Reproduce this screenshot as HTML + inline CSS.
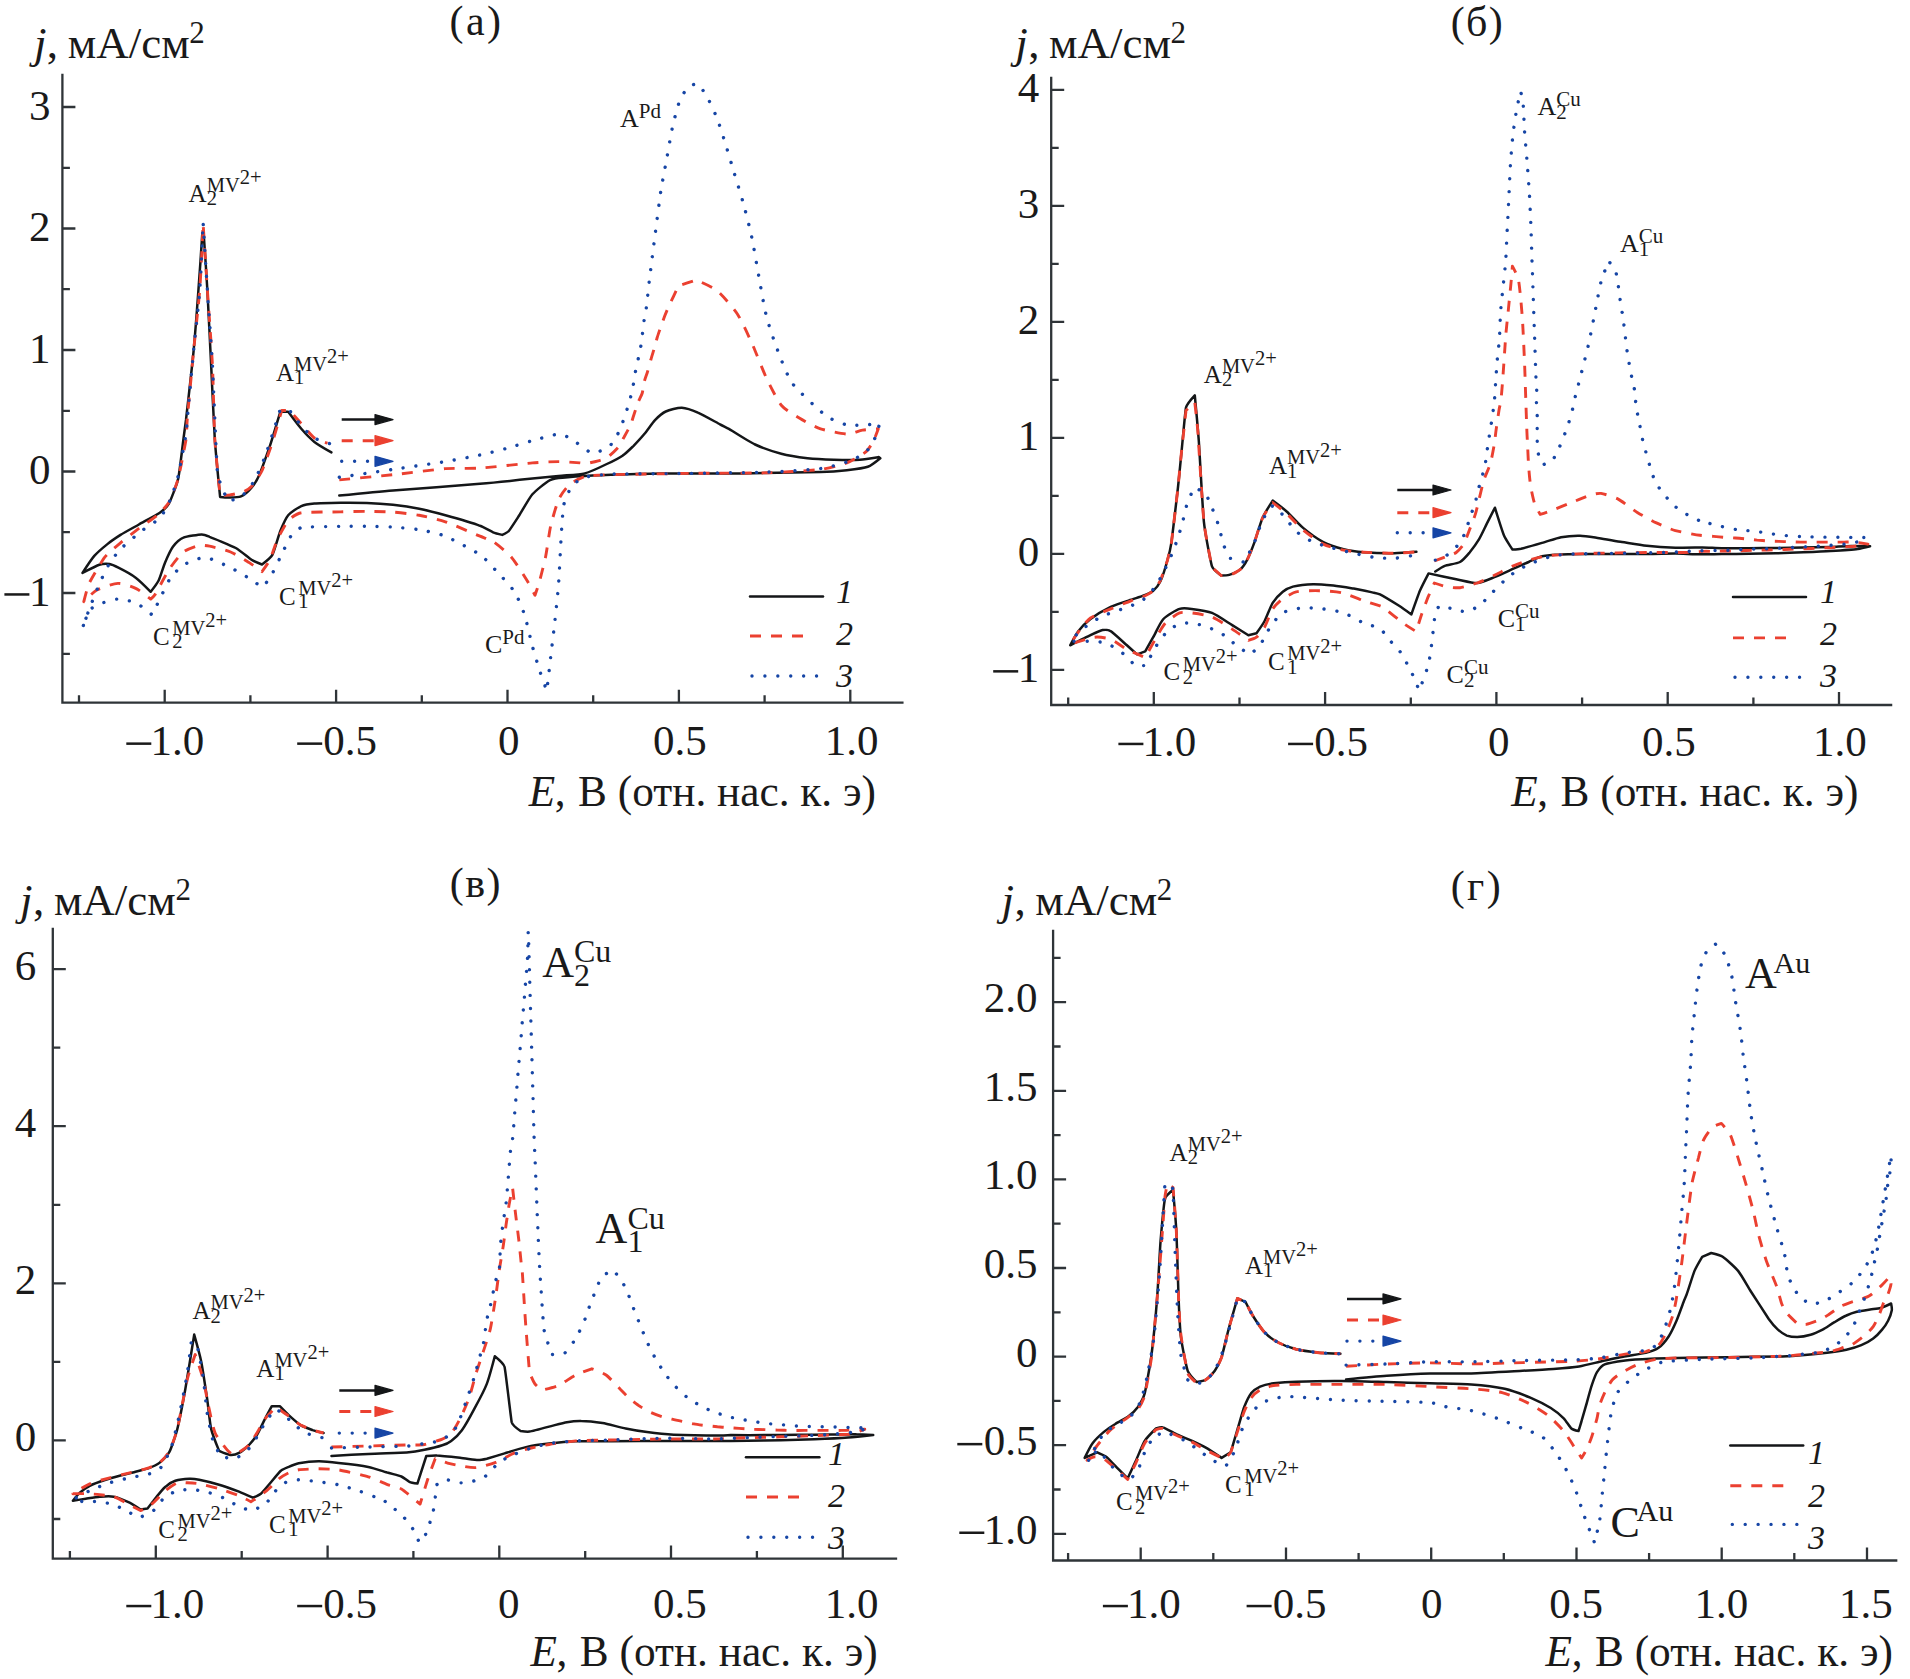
<!DOCTYPE html>
<html><head><meta charset="utf-8"><style>
html,body{margin:0;padding:0;background:#fff;}
svg{display:block}
.t{font-family:"Liberation Serif", serif;font-size:43px;fill:#1a1a1a}
.i{font-style:italic}
.s{font-family:"Liberation Serif", serif;font-size:24px;fill:#1a1a1a}
</style></head><body>
<svg width="1910" height="1679" viewBox="0 0 1910 1679" xmlns="http://www.w3.org/2000/svg">
<rect width="1910" height="1679" fill="#fff"/>
<path d="M62.4 75.0V702.7H902.4" fill="none" stroke="#2f3438" stroke-width="2.3" stroke-linecap="square"/>
<path d="M79.0 702.7v-7.5 M164.7 702.7v-13 M250.4 702.7v-7.5 M336.1 702.7v-13 M421.8 702.7v-7.5 M507.5 702.7v-13 M593.2 702.7v-7.5 M678.9 702.7v-13 M764.6 702.7v-7.5 M850.3 702.7v-13 M62.4 653.8h7.5 M62.4 593.0h13 M62.4 532.2h7.5 M62.4 471.5h13 M62.4 410.8h7.5 M62.4 350.0h13 M62.4 289.2h7.5 M62.4 228.5h13 M62.4 167.8h7.5 M62.4 107.0h13" fill="none" stroke="#2f3438" stroke-width="2.3"/>
<text x="204.2" y="755.2" text-anchor="end" class="t">1.0</text>
<rect x="126.3" y="742.4" width="25" height="2.5" fill="#1a1a1a"/>
<text x="377.1" y="755.2" text-anchor="end" class="t">0.5</text>
<rect x="297.2" y="742.4" width="25" height="2.5" fill="#1a1a1a"/>
<text x="519.5" y="755.2" text-anchor="end" class="t">0</text>
<text x="706.8" y="755.2" text-anchor="end" class="t">0.5</text>
<text x="878.5" y="755.2" text-anchor="end" class="t">1.0</text>
<text x="50.4" y="605.5" text-anchor="end" class="t">1</text>
<rect x="4.4" y="593.2" width="25" height="2.5" fill="#1a1a1a"/>
<text x="50.4" y="484.0" text-anchor="end" class="t">0</text>
<text x="50.4" y="362.5" text-anchor="end" class="t">1</text>
<text x="50.4" y="241.0" text-anchor="end" class="t">2</text>
<text x="50.4" y="119.5" text-anchor="end" class="t">3</text>
<path d="M1051.2 78.0V705.0H1891.1" fill="none" stroke="#2f3438" stroke-width="2.3" stroke-linecap="square"/>
<path d="M1068.2 705.0v-7.5 M1153.8 705.0v-13 M1239.5 705.0v-7.5 M1325.1 705.0v-13 M1410.8 705.0v-7.5 M1496.4 705.0v-13 M1582.1 705.0v-7.5 M1667.7 705.0v-13 M1753.4 705.0v-7.5 M1839.0 705.0v-13 M1051.2 669.9h13 M1051.2 611.9h7.5 M1051.2 553.9h13 M1051.2 495.9h7.5 M1051.2 437.9h13 M1051.2 379.9h7.5 M1051.2 321.9h13 M1051.2 263.9h7.5 M1051.2 205.9h13 M1051.2 147.9h7.5 M1051.2 89.9h13" fill="none" stroke="#2f3438" stroke-width="2.3"/>
<text x="1196.2" y="755.5" text-anchor="end" class="t">1.0</text>
<rect x="1118.4" y="742.7" width="25" height="2.5" fill="#1a1a1a"/>
<text x="1368.0" y="755.5" text-anchor="end" class="t">0.5</text>
<rect x="1288.1" y="742.7" width="25" height="2.5" fill="#1a1a1a"/>
<text x="1509.5" y="755.5" text-anchor="end" class="t">0</text>
<text x="1695.8" y="755.5" text-anchor="end" class="t">0.5</text>
<text x="1866.8" y="755.5" text-anchor="end" class="t">1.0</text>
<text x="1039.2" y="682.4" text-anchor="end" class="t">1</text>
<rect x="993.2" y="670.1" width="25" height="2.5" fill="#1a1a1a"/>
<text x="1039.2" y="566.4" text-anchor="end" class="t">0</text>
<text x="1039.2" y="450.4" text-anchor="end" class="t">1</text>
<text x="1039.2" y="334.4" text-anchor="end" class="t">2</text>
<text x="1039.2" y="218.4" text-anchor="end" class="t">3</text>
<text x="1039.2" y="102.4" text-anchor="end" class="t">4</text>
<path d="M52.8 929.0V1558.6H896.0" fill="none" stroke="#2f3438" stroke-width="2.3" stroke-linecap="square"/>
<path d="M69.9 1558.6v-7.5 M155.8 1558.6v-13 M241.7 1558.6v-7.5 M327.6 1558.6v-13 M413.4 1558.6v-7.5 M499.3 1558.6v-13 M585.2 1558.6v-7.5 M671.0 1558.6v-13 M756.9 1558.6v-7.5 M842.8 1558.6v-13 M52.8 1519.0h7.5 M52.8 1440.4h13 M52.8 1361.9h7.5 M52.8 1283.3h13 M52.8 1204.8h7.5 M52.8 1126.2h13 M52.8 1047.7h7.5 M52.8 969.1h13" fill="none" stroke="#2f3438" stroke-width="2.3"/>
<text x="204.2" y="1617.6" text-anchor="end" class="t">1.0</text>
<rect x="126.3" y="1604.8" width="25" height="2.5" fill="#1a1a1a"/>
<text x="377.1" y="1617.6" text-anchor="end" class="t">0.5</text>
<rect x="297.2" y="1604.8" width="25" height="2.5" fill="#1a1a1a"/>
<text x="519.5" y="1617.6" text-anchor="end" class="t">0</text>
<text x="706.8" y="1617.6" text-anchor="end" class="t">0.5</text>
<text x="878.5" y="1617.6" text-anchor="end" class="t">1.0</text>
<text x="36.3" y="1450.9" text-anchor="end" class="t">0</text>
<text x="36.3" y="1293.8" text-anchor="end" class="t">2</text>
<text x="36.3" y="1136.7" text-anchor="end" class="t">4</text>
<text x="36.3" y="979.6" text-anchor="end" class="t">6</text>
<path d="M1053.1 931.0V1560.5H1896.2" fill="none" stroke="#2f3438" stroke-width="2.3" stroke-linecap="square"/>
<path d="M1068.1 1560.5v-7.5 M1140.7 1560.5v-13 M1213.3 1560.5v-7.5 M1286.0 1560.5v-13 M1358.6 1560.5v-7.5 M1431.2 1560.5v-13 M1503.8 1560.5v-7.5 M1576.5 1560.5v-13 M1649.1 1560.5v-7.5 M1721.7 1560.5v-13 M1794.3 1560.5v-7.5 M1867.0 1560.5v-13 M1053.1 1533.8h13 M1053.1 1489.5h7.5 M1053.1 1445.2h13 M1053.1 1400.9h7.5 M1053.1 1356.6h13 M1053.1 1312.3h7.5 M1053.1 1268.0h13 M1053.1 1223.7h7.5 M1053.1 1179.4h13 M1053.1 1135.1h7.5 M1053.1 1090.8h13 M1053.1 1046.5h7.5 M1053.1 1002.2h13 M1053.1 957.9h7.5" fill="none" stroke="#2f3438" stroke-width="2.3"/>
<text x="1180.8" y="1617.6" text-anchor="end" class="t">1.0</text>
<rect x="1102.9" y="1604.8" width="25" height="2.5" fill="#1a1a1a"/>
<text x="1326.5" y="1617.6" text-anchor="end" class="t">0.5</text>
<rect x="1246.6" y="1604.8" width="25" height="2.5" fill="#1a1a1a"/>
<text x="1442.5" y="1617.6" text-anchor="end" class="t">0</text>
<text x="1603.0" y="1617.6" text-anchor="end" class="t">0.5</text>
<text x="1748.2" y="1617.6" text-anchor="end" class="t">1.0</text>
<text x="1892.8" y="1617.6" text-anchor="end" class="t">1.5</text>
<text x="1037.6" y="1543.8" text-anchor="end" class="t">1.0</text>
<rect x="959.3" y="1531.5" width="25" height="2.5" fill="#1a1a1a"/>
<text x="1037.6" y="1455.2" text-anchor="end" class="t">0.5</text>
<rect x="957.3" y="1442.9" width="25" height="2.5" fill="#1a1a1a"/>
<text x="1037.6" y="1366.6" text-anchor="end" class="t">0</text>
<text x="1037.6" y="1278.0" text-anchor="end" class="t">0.5</text>
<text x="1037.6" y="1189.4" text-anchor="end" class="t">1.0</text>
<text x="1037.6" y="1100.8" text-anchor="end" class="t">1.5</text>
<text x="1037.6" y="1012.2" text-anchor="end" class="t">2.0</text>
<path d="M339.3 495.6C339.3 495.6 379.6 491.5 393.0 490.4C406.5 489.3 466.9 485.0 480.0 483.8C493.1 482.7 525.9 479.3 532.4 478.6C539.0 477.9 552.1 476.6 558.6 476.0C565.2 475.3 579.0 474.8 584.8 473.4C590.6 471.9 602.7 466.0 606.8 464.0C610.9 462.1 619.9 457.5 622.9 455.4C625.9 453.4 631.0 448.3 633.6 445.8C636.1 443.2 641.8 437.1 644.3 434.0C646.9 430.9 652.7 422.5 655.0 420.1C657.4 417.6 662.6 412.9 665.8 411.5C668.9 410.1 677.7 407.6 681.8 407.7C686.0 407.9 694.1 410.9 697.9 412.6C701.8 414.2 717.8 423.2 720.0 424.3C722.2 425.5 726.7 427.6 728.9 428.8C731.1 430.1 748.8 441.6 755.1 444.5C761.4 447.5 774.9 452.0 781.3 453.7C787.7 455.4 801.0 457.4 807.5 458.2C814.0 458.9 827.2 459.5 833.7 459.7C840.3 459.9 855.3 460.0 859.9 459.7C864.5 459.5 877.7 457.2 878.3 457.1C878.8 457.1 880.3 458.2 880.3 458.2C880.3 458.2 871.4 465.5 867.8 466.8C864.2 468.1 852.1 469.6 846.8 470.2C841.5 470.8 827.2 471.9 820.6 472.1C814.0 472.2 761.7 473.2 742.0 473.4C722.4 473.5 676.5 473.2 663.4 473.4C650.3 473.5 617.6 474.5 611.0 474.7C604.4 474.9 591.3 475.6 584.8 476.0C578.3 476.4 561.3 477.7 558.6 478.1C555.9 478.5 550.4 479.8 548.1 481.2C545.8 482.7 535.7 490.4 532.4 494.3C529.1 498.2 521.9 511.3 519.3 515.3C516.7 519.3 510.1 529.6 508.8 531.0C507.6 532.4 502.3 534.9 502.3 534.9C502.3 534.9 495.3 533.2 493.1 532.3C490.9 531.4 483.4 527.0 480.0 525.8C476.6 524.5 451.9 517.1 445.4 515.3C438.9 513.5 425.7 510.0 419.2 508.7C412.7 507.4 399.5 505.5 393.0 504.8C386.5 504.1 373.4 503.2 366.8 503.0C360.3 502.7 347.2 502.6 340.6 502.7C334.1 502.8 317.7 503.2 314.4 503.5C311.1 503.8 304.4 504.7 301.3 506.1C298.3 507.5 290.8 512.2 288.2 515.3C285.6 518.3 282.0 526.9 280.3 531.0C278.7 535.1 274.2 551.4 272.5 554.6C270.8 557.8 262.0 564.5 262.0 564.5C262.0 564.5 254.0 561.4 251.5 559.8C249.1 558.3 240.1 550.4 235.8 548.0C231.5 545.7 211.5 537.5 209.6 536.8C207.7 536.0 203.8 534.3 201.7 534.4C199.7 534.5 186.6 536.2 183.4 537.6C180.2 538.9 175.0 543.9 172.9 546.7C170.9 549.5 166.8 558.4 165.1 562.4C163.4 566.5 160.0 577.8 158.5 580.8C157.0 583.8 150.7 591.8 150.7 591.8C150.7 591.8 140.0 580.9 136.0 577.9C131.9 574.9 120.6 568.8 118.4 567.7C116.3 566.6 111.9 564.4 109.5 564.0C107.1 563.7 101.7 564.0 99.3 564.8C96.9 565.6 82.5 572.9 82.5 572.9C82.5 572.9 91.4 559.2 94.3 555.9C97.2 552.6 104.3 546.6 107.4 544.1C110.5 541.6 117.1 537.1 120.5 534.9C123.9 532.8 134.3 527.1 138.9 524.5C143.5 521.9 157.2 514.5 159.8 512.7C162.5 510.8 167.5 506.3 169.0 503.5C170.5 500.6 176.7 485.1 178.2 478.6C179.6 472.1 182.8 444.1 183.4 439.3C184.0 434.5 185.4 424.8 186.0 419.9C186.5 415.1 192.0 367.5 193.5 351.8C195.0 336.1 197.5 302.8 198.5 289.0C199.6 275.2 202.3 233.7 202.3 233.7C202.3 233.7 203.6 232.5 203.6 232.5C203.6 232.5 206.5 274.9 207.3 289.0C208.1 303.1 210.2 345.7 211.1 364.4C212.0 383.1 213.9 424.9 214.8 439.3C215.8 453.7 220.1 496.9 220.1 496.9C220.1 496.9 226.0 497.5 227.9 497.5C229.9 497.4 238.0 497.7 241.0 496.4C244.1 495.2 249.3 490.4 251.5 487.8C253.7 485.2 257.9 478.2 259.4 474.7C260.9 471.2 267.4 453.1 269.9 445.9C272.3 438.6 280.3 411.8 280.3 411.8C280.3 411.8 288.2 411.8 288.2 411.8C288.2 411.8 298.3 425.3 301.3 428.8C304.3 432.3 310.8 439.1 314.4 441.9C318.1 444.8 331.4 452.4 331.4 452.4" fill="none" stroke="#141618" stroke-width="2.5" stroke-linejoin="round" stroke-linecap="round"/>
<path d="M339.3 479.9C339.3 479.9 379.9 476.1 393.0 474.7C406.1 473.3 436.8 469.3 445.4 468.6C454.0 468.0 471.4 468.7 480.0 468.1C488.6 467.6 525.9 463.4 532.4 462.9C538.9 462.3 553.2 461.6 558.6 461.6C564.0 461.6 578.4 462.8 580.0 462.9C581.6 463.1 584.8 463.7 586.4 463.5C588.0 463.3 595.7 461.5 598.2 460.8C600.7 460.1 605.7 458.5 607.9 457.0C610.0 455.6 616.9 449.0 618.6 446.9C620.3 444.7 622.6 439.6 624.0 437.2C625.3 434.8 629.3 427.7 630.4 425.4C631.4 423.1 632.8 418.2 633.6 415.8C634.4 413.4 636.9 405.4 637.9 402.9C638.8 400.4 641.4 395.8 642.2 393.3C642.9 390.7 643.7 383.9 644.3 381.5C644.9 379.0 646.8 374.3 647.5 371.8C648.3 369.4 650.0 362.7 650.8 360.0C651.5 357.3 653.2 352.0 654.0 349.3C654.7 346.6 656.5 340.0 657.2 337.5C657.9 335.1 659.6 330.3 660.4 327.9C661.2 325.5 663.7 318.7 664.7 316.1C665.7 313.5 667.8 308.4 669.0 305.9C670.1 303.4 678.5 285.9 678.5 285.9C678.5 285.9 696.1 280.0 696.1 280.0C696.1 280.0 712.2 286.6 716.6 290.3C721.1 293.9 732.9 307.2 737.2 313.7C741.5 320.2 748.4 335.6 751.8 343.0C755.2 350.5 763.2 371.3 766.5 378.2C769.8 385.2 777.7 400.9 781.3 405.2C784.9 409.6 794.8 415.4 799.7 418.3C804.5 421.2 815.1 427.0 820.6 428.8C826.2 430.7 842.8 433.9 846.8 434.1C850.9 434.2 858.6 430.8 862.5 430.1C866.4 429.5 878.3 428.8 878.3 428.8C878.3 428.8 874.6 439.1 873.0 441.9C871.4 444.8 867.7 450.4 865.2 452.4C862.6 454.4 851.7 461.0 846.8 462.9C841.9 464.8 827.3 468.6 820.6 469.4C813.9 470.3 781.3 472.4 768.2 472.8C755.1 473.2 709.3 473.1 689.6 473.4C670.0 473.6 617.6 474.5 611.0 474.7C604.4 474.9 589.2 475.4 584.8 476.5C580.5 477.6 572.4 482.2 569.1 485.2C565.7 488.1 560.4 495.5 558.6 499.6C556.8 503.6 552.3 519.1 550.7 525.8C549.2 532.4 546.9 550.6 545.5 557.2C544.1 563.8 539.8 580.4 539.0 583.4C538.1 586.4 535.0 595.2 535.0 595.2C535.0 595.2 529.3 584.3 527.2 580.8C525.0 577.3 515.4 561.8 511.4 557.2C507.5 552.6 496.0 543.4 493.1 541.5C490.2 539.5 483.3 537.6 480.0 536.2C476.7 534.9 451.8 524.0 445.4 521.8C439.0 519.6 425.7 516.5 419.2 515.3C412.7 514.1 399.5 512.6 393.0 512.1C386.5 511.6 373.4 511.4 366.8 511.4C360.3 511.3 347.2 511.7 340.6 511.9C334.1 512.0 305.1 512.0 301.3 512.7C297.5 513.3 290.8 517.7 288.2 520.5C285.7 523.4 280.0 534.1 277.7 538.9C275.5 543.7 271.4 556.6 269.9 559.8C268.3 563.0 262.0 571.6 262.0 571.6C262.0 571.6 252.3 564.6 248.9 562.4C245.5 560.3 235.4 554.0 230.6 552.0C225.7 549.9 212.2 546.7 209.6 546.2C207.0 545.7 201.7 544.9 199.1 545.4C196.6 546.0 186.8 549.4 183.4 552.0C180.0 554.6 173.2 563.5 170.3 567.7C167.4 571.9 161.1 583.7 159.8 586.0C158.5 588.3 155.4 594.1 154.6 595.2C153.8 596.3 150.7 599.1 150.7 599.1C150.7 599.1 140.3 590.6 136.2 588.6C132.2 586.7 122.7 583.2 117.9 583.4C113.1 583.6 100.8 587.9 96.9 590.0C93.1 592.0 83.8 601.7 83.8 601.7C83.8 601.7 87.1 587.7 89.1 583.4C91.1 579.1 101.5 561.4 104.8 557.2C108.1 553.0 116.5 546.2 120.5 542.8C124.6 539.4 134.4 531.8 138.9 528.4C143.4 525.0 153.9 518.2 157.2 515.3C160.5 512.4 166.8 506.0 169.0 502.2C171.2 498.4 176.5 484.7 178.2 478.6C179.8 472.5 185.3 444.1 186.0 439.3C186.8 434.5 186.8 424.8 187.2 419.9C187.6 415.1 192.0 367.5 193.5 351.8C195.0 336.1 198.6 304.7 199.8 289.0C201.0 273.3 203.1 223.7 203.1 223.7C203.1 223.7 206.3 272.7 207.3 289.0C208.4 305.3 211.4 345.7 212.4 364.4C213.3 383.1 214.0 425.2 214.8 439.3C215.7 453.4 220.1 495.6 220.1 495.6C220.1 495.6 228.0 495.3 230.6 494.8C233.2 494.4 241.5 492.6 243.7 491.7C245.9 490.8 250.0 488.2 251.5 486.5C253.1 484.7 260.0 475.0 262.0 470.7C264.0 466.5 270.1 449.2 272.5 441.9C274.9 434.6 281.7 410.5 281.7 410.5C281.7 410.5 289.5 410.5 289.5 410.5C289.5 410.5 298.4 420.3 301.3 423.6C304.3 426.8 311.6 435.9 314.4 438.0C317.2 440.1 327.5 443.2 327.5 443.2" fill="none" stroke="#eb4030" stroke-width="2.9" stroke-dasharray="11 10" stroke-linejoin="round"/>
<path d="M339.3 477.3C339.3 477.3 379.9 471.4 393.0 469.4C406.1 467.5 436.7 463.0 445.4 461.6C454.1 460.1 473.4 456.4 480.0 455.0C486.6 453.6 499.7 450.3 506.2 448.5C512.7 446.7 525.9 442.4 532.4 440.6C538.9 438.8 555.1 434.2 558.6 434.1C562.1 433.9 568.7 437.5 571.7 439.3C574.7 441.1 588.6 451.6 590.0 452.4C591.5 453.2 595.0 452.7 596.6 452.2C598.2 451.8 606.4 449.0 608.9 446.9C611.5 444.7 615.8 437.6 617.5 434.5C619.2 431.5 621.7 424.8 622.9 421.7C624.1 418.5 626.2 412.0 627.2 408.8C628.2 405.6 630.1 399.1 630.9 395.9C631.7 392.8 633.0 386.3 633.6 383.1C634.2 379.9 635.1 373.3 635.7 370.2C636.3 367.1 637.8 361.0 638.4 357.9C639.1 354.8 640.6 347.7 641.1 344.5C641.6 341.3 642.3 334.8 642.7 331.6C643.1 328.4 643.9 321.9 644.3 318.8C644.8 315.7 646.1 309.5 646.5 306.4C646.9 303.3 648.5 287.7 649.2 281.5C650.0 275.2 653.7 245.6 655.1 234.6C656.5 223.6 659.7 198.7 660.9 190.6C662.2 182.5 665.3 166.4 666.8 158.3C668.3 150.3 671.2 132.8 672.7 126.1C674.2 119.4 678.5 103.4 680.0 99.7C681.5 96.0 687.1 88.1 688.8 86.5C690.5 84.9 697.6 83.6 697.6 83.6C697.6 83.6 704.6 92.1 706.4 95.3C708.2 98.5 714.4 111.6 716.6 117.3C718.9 122.9 723.4 137.0 725.4 143.7C727.5 150.3 732.0 165.7 734.2 173.0C736.4 180.3 741.0 194.9 743.0 202.3C745.1 209.7 750.0 228.6 751.8 237.5C753.7 246.4 757.4 269.0 759.2 278.5C760.9 288.1 764.2 307.7 766.5 316.6C768.8 325.6 775.0 343.6 778.2 351.8C781.4 360.1 787.6 377.0 792.9 384.1C798.2 391.2 821.3 412.3 825.9 415.7C830.4 419.2 842.3 423.8 846.8 424.9C851.3 425.9 861.5 425.0 865.2 424.9C868.8 424.7 879.6 423.6 879.6 423.6C879.6 423.6 877.0 433.6 875.6 436.7C874.2 439.8 870.5 447.1 867.8 449.8C865.1 452.5 856.4 458.5 852.1 460.3C847.7 462.0 828.7 467.5 820.6 468.6C812.6 469.8 781.3 471.6 768.2 472.1C755.1 472.5 709.3 473.1 689.6 473.4C670.0 473.6 617.6 473.9 611.0 474.1C604.4 474.4 588.6 476.1 584.8 477.3C581.0 478.5 574.1 483.3 571.7 486.5C569.3 489.6 564.9 499.9 563.8 504.8C562.8 509.7 561.7 528.4 561.2 536.2C560.7 544.1 559.3 573.6 558.6 583.4C557.9 593.3 555.6 614.2 554.7 622.7C553.8 631.2 551.7 648.3 550.7 656.8C549.8 665.3 546.8 690.8 546.8 690.8C546.8 690.8 541.8 677.1 540.3 672.5C538.8 667.9 534.2 652.9 532.4 646.3C530.6 639.7 526.6 621.0 524.5 614.8C522.5 608.7 517.6 596.7 514.1 591.3C510.6 585.9 499.5 574.4 495.7 570.3C491.9 566.2 484.6 557.7 480.0 554.6C475.4 551.5 451.7 538.8 445.4 536.2C439.2 533.7 425.7 530.8 419.2 529.7C412.7 528.6 399.6 527.5 393.0 527.1C386.5 526.6 373.4 526.4 366.8 526.3C360.3 526.2 347.2 526.2 340.6 526.3C334.1 526.4 301.3 527.1 301.3 527.1C301.3 527.1 292.8 533.4 290.8 536.2C288.8 539.1 283.0 552.0 280.3 557.2C277.7 562.4 271.4 575.6 269.9 578.2C268.3 580.7 262.0 587.3 262.0 587.3C262.0 587.3 252.3 580.3 248.9 578.2C245.5 576.0 235.3 570.0 230.6 567.7C225.8 565.3 212.1 559.2 209.6 558.5C207.1 557.8 201.7 557.9 199.1 558.5C196.6 559.2 186.9 562.7 183.4 565.1C179.9 567.5 172.9 574.4 170.3 578.2C167.7 582.0 161.8 595.2 159.8 599.1C157.9 603.1 152.0 614.8 152.0 614.8C152.0 614.8 140.5 605.0 136.2 603.1C132.0 601.1 122.0 599.1 117.9 599.1C113.9 599.1 105.6 601.8 102.2 603.1C98.7 604.3 89.1 609.6 89.1 609.6C89.1 609.6 82.5 627.9 82.5 627.9C82.5 627.9 87.3 614.2 89.1 609.6C90.8 605.1 97.2 588.8 99.6 583.4C101.9 578.1 107.3 566.7 110.0 562.4C112.8 558.1 119.5 550.3 123.1 546.7C126.8 543.1 137.1 534.5 141.5 531.0C145.9 527.5 156.3 521.8 159.8 517.9C163.4 514.0 168.2 504.4 170.3 499.6C172.4 494.7 176.7 482.0 178.2 476.0C179.6 469.9 185.5 437.6 186.0 434.1C186.6 430.6 186.9 423.5 187.2 419.9C187.5 416.4 192.0 367.5 193.5 351.8C195.0 336.1 198.6 304.7 199.8 289.0C201.0 273.3 203.1 222.4 203.1 222.4C203.1 222.4 206.2 272.4 207.3 289.0C208.4 305.7 211.3 345.5 212.4 364.4C213.4 383.3 216.6 466.1 217.5 473.4C218.3 480.7 227.9 500.9 227.9 500.9C227.9 500.9 238.3 499.0 241.0 496.9C243.8 494.9 251.5 485.6 254.1 481.2C256.8 476.8 262.4 463.4 264.6 457.6C266.9 451.9 270.6 440.0 272.5 434.1C274.4 428.2 280.3 409.2 280.3 409.2C280.3 409.2 290.8 411.8 290.8 411.8C290.8 411.8 301.0 425.8 303.9 428.8C306.8 431.9 313.4 437.3 317.0 439.3C320.7 441.3 332.8 444.5 332.8 444.5" fill="none" stroke="#1645a5" stroke-width="3.4" stroke-dasharray="0.01 12.9" stroke-linecap="round" stroke-linejoin="round"/>
<path d="M1435.3 571.5C1435.3 571.5 1442.2 566.8 1444.8 565.8C1447.4 564.8 1457.1 563.6 1460.0 562.0C1463.0 560.4 1467.4 555.1 1469.6 552.5C1471.7 549.9 1477.0 542.6 1479.1 539.1C1481.2 535.6 1484.8 527.7 1486.7 523.9C1488.6 520.1 1494.9 507.7 1494.9 507.7C1494.9 507.7 1502.3 531.5 1503.9 535.3C1505.5 539.2 1512.5 549.6 1512.5 549.6C1512.5 549.6 1518.9 549.1 1521.0 548.7C1523.1 548.2 1537.2 544.3 1542.0 542.9C1546.8 541.6 1556.4 538.1 1561.1 537.2C1565.8 536.3 1575.3 535.6 1580.1 535.7C1584.9 535.8 1594.4 537.5 1599.2 538.2C1603.9 538.9 1616.3 541.1 1622.0 542.0C1627.8 542.9 1640.6 545.1 1646.8 545.8C1653.1 546.5 1668.6 547.5 1675.4 547.7C1682.2 547.9 1697.9 547.5 1702.6 547.5C1707.4 547.6 1716.9 548.1 1721.7 548.2C1726.4 548.3 1742.1 548.3 1748.9 548.2C1755.7 548.2 1769.3 548.0 1776.1 547.9C1782.9 547.9 1796.5 547.7 1803.4 547.5C1810.2 547.4 1825.5 547.0 1830.6 546.9C1835.7 546.7 1846.2 546.0 1851.0 545.9C1855.8 545.8 1870.1 546.2 1870.1 546.2C1870.1 546.2 1860.9 548.5 1857.8 548.9C1854.7 549.3 1837.4 550.5 1830.6 550.9C1823.8 551.4 1810.2 552.0 1803.4 552.3C1796.5 552.6 1782.9 553.1 1776.1 553.3C1769.3 553.4 1755.7 553.6 1748.9 553.7C1742.1 553.8 1726.8 554.0 1721.7 554.1C1716.6 554.1 1706.4 554.4 1701.3 554.3C1696.2 554.3 1681.9 553.7 1675.4 553.6C1669.0 553.6 1654.0 554.0 1646.8 554.0C1639.7 554.0 1596.8 554.0 1589.6 554.0C1582.5 554.0 1565.8 554.1 1561.1 554.4C1556.3 554.6 1545.5 555.5 1542.0 556.3C1538.5 557.1 1532.0 560.6 1528.7 562.0C1525.3 563.4 1517.2 567.0 1513.4 568.7C1509.6 570.4 1498.6 575.6 1494.4 577.2C1490.1 578.9 1481.7 582.7 1477.2 583.0C1472.7 583.2 1461.5 580.2 1456.2 579.2C1451.0 578.1 1428.6 573.4 1428.6 573.4C1428.6 573.4 1421.9 586.2 1420.0 590.6C1418.2 595.0 1411.4 614.4 1411.4 614.4C1411.4 614.4 1402.2 607.9 1399.1 605.8C1395.9 603.8 1381.4 595.1 1380.0 594.4C1378.6 593.7 1375.5 593.0 1373.9 592.7C1372.4 592.4 1358.7 589.5 1353.7 588.6C1348.6 587.8 1338.5 586.2 1333.4 585.6C1328.4 585.1 1318.3 584.1 1313.2 584.2C1308.1 584.3 1295.7 585.9 1292.9 586.6C1290.2 587.3 1285.0 589.9 1282.8 591.7C1280.6 593.5 1274.7 599.6 1272.7 602.8C1270.7 606.0 1266.3 617.8 1264.6 621.0C1262.9 624.3 1256.5 633.2 1256.5 633.2C1256.5 633.2 1248.4 635.2 1248.4 635.2C1248.4 635.2 1236.3 627.6 1232.2 625.1C1228.1 622.6 1216.8 614.9 1212.0 612.9C1207.2 611.0 1194.7 609.3 1191.7 608.9C1188.7 608.5 1182.4 607.9 1179.6 608.9C1176.7 609.9 1166.6 615.5 1163.4 619.0C1160.1 622.5 1155.3 633.7 1153.2 637.2C1151.2 640.8 1145.2 651.4 1145.2 651.4C1145.2 651.4 1137.1 654.4 1137.1 654.4C1137.1 654.4 1129.5 647.6 1126.9 645.3C1124.4 643.1 1112.5 632.2 1110.7 631.2C1109.0 630.1 1104.6 629.7 1102.6 630.1C1100.6 630.5 1093.5 633.8 1090.5 635.2C1087.5 636.6 1070.2 645.3 1070.2 645.3C1070.2 645.3 1075.9 634.4 1078.3 631.2C1080.8 627.9 1087.1 621.6 1090.5 619.0C1093.9 616.4 1105.9 609.2 1110.7 606.9C1115.6 604.6 1128.0 600.8 1131.0 599.8C1134.0 598.7 1140.5 596.8 1143.1 595.7C1145.7 594.7 1151.1 592.5 1153.2 590.7C1155.4 588.9 1159.1 584.2 1160.3 581.6C1161.6 578.9 1166.2 564.8 1167.4 560.3C1168.7 555.8 1170.8 546.7 1171.5 542.1C1172.1 537.5 1176.4 501.6 1177.5 491.5C1178.7 481.4 1180.6 461.1 1181.6 451.0C1182.6 440.9 1185.2 411.1 1186.0 407.5C1186.9 403.8 1194.8 395.3 1194.8 395.3C1194.8 395.3 1198.0 429.5 1198.8 440.9C1199.6 452.3 1202.7 510.6 1203.9 521.8C1205.0 533.1 1211.0 563.3 1212.0 566.4C1212.9 569.4 1221.1 575.5 1221.1 575.5C1221.1 575.5 1227.2 575.5 1229.2 574.9C1231.1 574.3 1238.0 571.4 1240.3 569.4C1242.7 567.4 1246.0 562.0 1247.4 559.3C1248.8 556.5 1252.9 546.5 1254.5 542.1C1256.1 537.7 1260.6 522.4 1262.6 517.8C1264.6 513.2 1272.7 500.6 1272.7 500.6C1272.7 500.6 1283.5 508.7 1286.9 511.7C1290.2 514.7 1298.7 524.2 1303.1 527.9C1307.5 531.6 1318.6 539.6 1323.3 542.1C1328.1 544.6 1338.6 547.9 1343.6 549.2C1348.5 550.4 1358.7 551.8 1363.8 552.2C1368.9 552.6 1388.6 553.3 1394.2 553.2C1399.7 553.2 1416.4 551.8 1416.4 551.8" fill="none" stroke="#141618" stroke-width="2.5" stroke-linejoin="round" stroke-linecap="round"/>
<path d="M1434.3 561.0C1434.3 561.0 1444.3 557.2 1446.7 556.3C1449.1 555.3 1454.2 554.0 1456.2 552.5C1458.3 551.0 1462.4 546.4 1463.9 543.9C1465.3 541.4 1468.2 533.2 1469.6 529.6C1471.0 526.0 1474.1 518.1 1475.3 514.4C1476.5 510.6 1478.2 502.9 1479.1 499.1C1480.1 495.3 1482.5 484.4 1483.9 480.0C1485.3 475.7 1489.3 467.3 1490.5 462.9C1491.8 458.5 1493.7 447.6 1494.4 443.8C1495.0 440.0 1495.7 432.4 1496.3 428.6C1496.8 424.8 1498.7 411.9 1499.1 409.5C1499.5 407.1 1500.8 402.4 1501.0 400.0C1501.3 397.6 1502.7 380.6 1503.1 374.1C1503.6 367.7 1505.2 342.7 1505.7 336.4C1506.2 330.1 1507.5 317.6 1508.2 311.3C1508.8 305.0 1510.2 291.2 1510.7 286.2C1511.2 281.2 1512.4 266.1 1512.4 266.1C1512.4 266.1 1517.4 275.3 1518.2 278.6C1519.1 282.0 1520.2 293.7 1520.7 298.7C1521.2 303.8 1522.4 317.6 1522.7 323.9C1523.1 330.2 1524.1 352.1 1524.5 361.6C1524.9 371.0 1525.5 391.9 1525.8 399.3C1526.0 406.6 1526.6 423.8 1526.8 428.6C1526.9 433.4 1527.5 442.9 1527.7 447.6C1527.9 452.4 1528.3 461.9 1528.7 466.7C1529.0 471.5 1529.9 481.4 1530.6 485.8C1531.3 490.1 1533.4 499.9 1534.4 502.9C1535.4 506.0 1540.1 514.4 1540.1 514.4C1540.1 514.4 1548.7 511.6 1551.5 510.5C1554.4 509.5 1565.8 504.8 1570.6 502.9C1575.4 501.0 1586.9 496.2 1589.6 495.3C1592.4 494.4 1598.2 493.0 1601.1 493.4C1604.0 493.8 1614.2 497.0 1618.2 499.1C1622.2 501.2 1632.7 509.6 1637.3 512.4C1641.9 515.3 1651.7 520.7 1656.4 522.9C1661.0 525.1 1670.5 529.2 1675.4 530.6C1680.4 532.0 1696.7 534.8 1700.0 535.3C1703.3 535.8 1710.8 536.2 1713.5 536.4C1716.2 536.6 1721.7 537.1 1724.4 537.3C1727.1 537.5 1732.6 537.8 1735.3 538.0C1738.0 538.2 1743.5 538.7 1746.2 539.0C1748.9 539.2 1754.3 539.8 1757.1 540.1C1759.8 540.3 1765.2 540.8 1768.0 541.0C1770.7 541.2 1776.1 541.3 1778.8 541.4C1781.6 541.5 1787.0 541.7 1789.7 541.8C1792.5 541.9 1797.9 542.1 1800.6 542.1C1803.4 542.1 1808.8 542.1 1811.5 542.1C1814.2 542.1 1819.7 542.1 1822.4 542.1C1825.1 542.1 1830.6 542.1 1833.3 542.1C1836.0 542.1 1841.8 542.1 1844.2 542.1C1846.6 542.1 1851.3 541.9 1853.7 542.1C1856.1 542.3 1868.0 544.1 1868.0 544.1C1868.0 544.1 1857.8 545.9 1855.1 546.2C1852.4 546.5 1846.9 546.7 1844.2 546.9C1841.5 547.0 1836.0 547.4 1833.3 547.5C1830.6 547.7 1825.1 547.8 1822.4 547.9C1819.7 548.1 1814.2 548.4 1811.5 548.5C1808.8 548.6 1803.4 548.8 1800.6 548.9C1797.9 549.0 1792.5 549.2 1789.7 549.3C1787.0 549.4 1781.6 549.5 1778.8 549.6C1776.1 549.7 1770.7 549.9 1768.0 550.0C1765.2 550.1 1759.8 550.2 1757.1 550.3C1754.3 550.3 1748.9 550.4 1746.2 550.5C1743.5 550.6 1738.0 550.9 1735.3 550.9C1732.6 551.0 1727.1 550.9 1724.4 550.9C1721.7 551.0 1716.2 551.3 1713.5 551.4C1710.8 551.4 1705.3 551.2 1702.6 551.4C1699.9 551.5 1689.4 552.4 1684.9 552.5C1680.5 552.6 1656.4 552.4 1646.8 552.5C1637.3 552.6 1599.2 553.1 1589.6 553.4C1580.1 553.7 1556.4 554.8 1551.5 555.3C1546.7 555.8 1537.2 557.9 1532.5 559.1C1527.8 560.4 1518.1 563.8 1513.4 565.8C1508.8 567.8 1498.6 573.3 1494.4 575.3C1490.1 577.4 1481.4 581.5 1477.2 583.0C1473.0 584.5 1463.4 587.3 1460.0 587.7C1456.7 588.1 1449.9 587.4 1446.7 586.8C1443.5 586.2 1434.3 583.0 1434.3 583.0C1434.3 583.0 1429.2 594.4 1427.6 598.2C1426.1 602.0 1423.3 609.6 1421.9 613.5C1420.6 617.3 1416.2 631.6 1416.2 631.6C1416.2 631.6 1406.1 625.3 1402.9 623.0C1399.7 620.6 1384.7 608.4 1383.8 607.7C1383.0 607.1 1381.0 606.2 1380.0 605.8C1379.0 605.5 1367.8 602.2 1363.8 600.8C1359.8 599.4 1347.0 593.9 1341.5 592.7C1336.1 591.5 1324.8 590.8 1319.3 590.7C1313.7 590.5 1300.9 590.8 1297.0 591.7C1293.1 592.5 1285.7 596.7 1282.8 598.8C1279.9 600.8 1274.6 605.9 1272.7 608.9C1270.8 611.9 1266.2 624.3 1264.6 627.1C1263.0 629.9 1258.2 635.9 1256.5 637.2C1254.8 638.6 1248.4 640.3 1248.4 640.3C1248.4 640.3 1236.3 631.8 1232.2 629.1C1228.1 626.5 1216.8 618.9 1212.0 617.0C1207.2 615.1 1194.7 613.3 1191.7 612.9C1188.7 612.6 1182.4 611.9 1179.6 612.9C1176.7 614.0 1168.4 619.9 1165.4 623.1C1162.4 626.3 1157.7 635.1 1155.3 639.3C1152.9 643.4 1145.2 657.5 1145.2 657.5C1145.2 657.5 1131.2 651.6 1126.9 649.4C1122.7 647.1 1114.6 640.7 1110.7 639.3C1106.9 637.8 1098.6 636.7 1094.5 637.2C1090.5 637.7 1070.2 644.3 1070.2 644.3C1070.2 644.3 1078.1 632.1 1080.4 629.1C1082.7 626.2 1087.4 620.1 1090.5 618.0C1093.6 615.9 1105.7 611.0 1110.7 608.9C1115.8 606.8 1128.0 601.9 1131.0 600.8C1134.0 599.7 1140.4 598.0 1143.1 596.7C1145.8 595.5 1151.1 592.7 1153.2 590.7C1155.4 588.6 1159.0 583.3 1160.3 580.5C1161.6 577.7 1166.1 564.8 1167.4 560.3C1168.7 555.8 1170.8 546.7 1171.5 542.1C1172.1 537.5 1176.4 501.6 1177.5 491.5C1178.7 481.4 1180.5 461.1 1181.6 451.0C1182.7 440.9 1186.0 410.5 1186.0 410.5C1186.0 410.5 1194.8 402.4 1194.8 402.4C1194.8 402.4 1197.2 423.6 1197.8 430.7C1198.3 437.8 1202.7 510.3 1203.9 521.8C1205.1 533.3 1212.0 567.4 1212.0 567.4C1212.0 567.4 1221.1 575.5 1221.1 575.5C1221.1 575.5 1227.2 576.1 1229.2 575.5C1231.1 574.9 1238.0 571.5 1240.3 569.4C1242.6 567.4 1246.0 562.0 1247.4 559.3C1248.8 556.5 1252.9 546.5 1254.5 542.1C1256.1 537.7 1260.7 521.9 1262.6 517.8C1264.5 513.6 1272.7 502.6 1272.7 502.6C1272.7 502.6 1283.5 510.7 1286.9 513.7C1290.2 516.8 1298.7 526.3 1303.1 529.9C1307.5 533.6 1318.6 541.7 1323.3 544.1C1328.0 546.5 1338.6 549.2 1343.6 550.2C1348.5 551.2 1358.7 551.9 1363.8 552.2C1368.9 552.5 1388.6 553.3 1394.2 553.2C1399.7 553.2 1416.4 551.8 1416.4 551.8" fill="none" stroke="#eb4030" stroke-width="2.9" stroke-dasharray="11 10" stroke-linejoin="round"/>
<path d="M1435.3 560.1C1435.3 560.1 1444.1 557.0 1446.7 555.3C1449.3 553.6 1455.7 547.8 1458.1 544.8C1460.5 541.8 1464.4 534.7 1465.8 531.5C1467.1 528.3 1468.5 521.5 1469.6 518.2C1470.7 514.9 1474.6 505.2 1475.3 502.9C1476.0 500.6 1476.6 495.7 1477.2 493.4C1477.8 491.0 1480.1 483.4 1481.0 480.0C1482.0 476.7 1484.1 470.0 1484.8 466.7C1485.5 463.4 1486.3 456.7 1486.7 453.4C1487.2 450.0 1488.2 442.9 1488.6 440.0C1489.1 437.2 1490.1 431.5 1490.5 428.6C1491.0 425.7 1492.0 418.6 1492.4 415.2C1492.9 411.9 1494.1 405.3 1494.4 401.9C1494.6 398.5 1496.4 370.4 1496.9 364.1C1497.4 357.8 1498.9 345.3 1499.4 339.0C1499.8 332.7 1500.2 317.6 1500.6 311.3C1501.1 305.0 1502.5 292.5 1503.1 286.2C1503.8 279.9 1505.2 267.3 1505.7 261.0C1506.1 254.8 1506.6 242.2 1506.9 235.9C1507.2 229.6 1507.9 217.1 1508.2 210.8C1508.5 204.5 1509.1 191.9 1509.4 185.7C1509.7 179.4 1510.2 166.8 1510.7 160.5C1511.1 154.2 1512.4 139.2 1513.2 132.9C1513.9 126.6 1516.2 111.9 1517.0 107.7C1517.7 103.6 1520.7 91.4 1520.7 91.4C1520.7 91.4 1522.9 101.7 1523.2 105.2C1523.6 108.7 1524.1 124.1 1524.5 130.4C1524.9 136.6 1526.4 153.0 1527.0 160.5C1527.6 168.1 1529.1 188.8 1529.5 195.7C1529.9 202.6 1530.5 216.4 1530.8 223.4C1531.1 230.3 1531.7 251.6 1532.0 261.0C1532.4 270.5 1533.0 289.3 1533.3 298.7C1533.6 308.2 1534.2 327.0 1534.6 336.4C1534.9 345.9 1535.6 368.5 1535.8 374.1C1536.0 379.8 1537.1 395.9 1537.1 396.8C1537.1 397.6 1536.3 399.2 1536.3 400.0C1536.3 400.8 1537.1 411.9 1537.2 415.2C1537.3 418.6 1537.2 425.7 1537.2 428.6C1537.2 431.4 1537.1 437.2 1537.2 440.0C1537.3 442.9 1537.5 450.3 1538.2 453.4C1538.9 456.4 1543.0 464.8 1543.0 464.8C1543.0 464.8 1552.5 461.0 1552.5 461.0C1552.5 461.0 1557.9 450.5 1559.2 447.6C1560.5 444.8 1562.8 439.1 1563.9 436.2C1565.0 433.3 1567.6 426.2 1568.7 422.9C1569.7 419.6 1571.9 411.9 1572.5 409.5C1573.1 407.2 1573.8 402.4 1574.4 400.0C1575.0 397.6 1577.5 388.1 1578.5 384.2C1579.5 380.2 1586.5 353.4 1588.6 344.0C1590.7 334.6 1594.9 312.6 1596.1 306.3C1597.4 300.0 1599.7 286.3 1601.2 281.2C1602.6 276.0 1608.7 261.0 1608.7 261.0C1608.7 261.0 1615.2 270.1 1616.2 273.6C1617.3 277.1 1619.1 292.5 1620.0 298.7C1620.9 305.0 1622.9 317.6 1623.8 323.9C1624.6 330.2 1626.5 347.1 1627.5 354.0C1628.6 361.0 1631.8 377.9 1632.6 381.7C1633.3 385.5 1636.1 395.0 1636.3 396.8C1636.6 398.5 1635.2 402.0 1635.4 403.8C1635.6 405.6 1637.6 413.8 1638.2 417.2C1638.9 420.5 1642.3 438.5 1643.0 441.9C1643.8 445.3 1645.9 451.9 1646.8 455.3C1647.8 458.6 1649.6 465.3 1650.6 468.6C1651.7 471.9 1653.8 478.8 1655.4 482.0C1657.0 485.1 1661.6 491.4 1664.0 494.3C1666.3 497.3 1672.8 504.5 1675.4 506.7C1678.0 509.0 1683.9 512.6 1686.8 514.4C1689.8 516.1 1700.0 521.0 1700.0 521.0C1700.0 521.0 1699.9 520.3 1699.9 520.3C1699.9 520.3 1709.6 523.5 1712.8 524.4C1716.0 525.3 1722.7 526.7 1725.8 527.4C1728.8 528.1 1734.9 529.4 1738.0 529.8C1741.1 530.3 1748.6 530.6 1751.6 530.9C1754.7 531.3 1760.8 532.1 1763.9 532.6C1766.9 533.0 1773.6 534.2 1776.8 534.6C1780.0 535.0 1786.7 535.7 1789.7 536.0C1792.8 536.2 1798.9 536.5 1802.0 536.6C1805.1 536.8 1811.7 536.9 1814.9 536.9C1818.2 537.0 1824.6 537.2 1827.9 537.2C1831.1 537.2 1837.6 537.2 1840.8 537.2C1844.0 537.2 1850.7 537.4 1853.7 537.5C1856.8 537.5 1866.0 537.5 1866.0 537.5C1866.0 537.5 1863.1 540.3 1861.9 540.7C1860.7 541.2 1852.7 543.0 1849.6 543.5C1846.5 544.0 1839.9 544.5 1836.7 544.8C1833.5 545.1 1826.8 545.7 1823.8 545.9C1820.7 546.1 1814.6 546.3 1811.5 546.5C1808.5 546.6 1801.0 547.1 1797.9 547.3C1794.8 547.4 1788.7 547.7 1785.7 547.8C1782.6 548.0 1776.0 548.4 1772.7 548.5C1769.5 548.6 1763.0 548.8 1759.8 548.9C1756.6 549.0 1750.1 549.0 1746.9 549.2C1743.6 549.3 1737.0 549.8 1733.9 550.0C1730.9 550.2 1724.7 550.5 1721.7 550.5C1718.6 550.6 1711.0 550.5 1708.7 550.5C1706.5 550.6 1702.1 550.7 1699.9 550.8C1697.7 550.9 1688.7 551.3 1684.9 551.5C1681.2 551.7 1670.7 552.4 1665.9 552.5C1661.1 552.6 1618.2 553.3 1608.7 553.4C1599.2 553.6 1575.4 553.8 1570.6 554.0C1565.8 554.2 1556.2 555.2 1551.5 556.3C1546.9 557.4 1536.4 561.3 1532.5 563.0C1528.5 564.6 1520.8 568.3 1517.2 570.6C1513.6 572.8 1507.0 578.2 1503.9 581.1C1500.7 583.9 1493.4 591.5 1490.5 594.4C1487.7 597.3 1482.1 603.8 1479.1 605.8C1476.1 607.9 1469.2 611.2 1465.8 611.6C1462.4 611.9 1455.8 609.4 1452.4 608.7C1449.1 608.0 1439.1 605.8 1439.1 605.8C1439.1 605.8 1435.8 611.4 1435.3 613.5C1434.8 615.5 1433.8 624.9 1433.4 628.7C1432.9 632.5 1431.0 650.1 1430.5 653.5C1430.0 656.9 1428.4 663.9 1427.6 666.8C1426.9 669.7 1424.9 675.4 1423.8 678.3C1422.8 681.1 1419.1 690.6 1419.1 690.6C1419.1 690.6 1415.7 681.3 1414.3 678.3C1413.0 675.2 1409.4 668.2 1407.6 664.9C1405.9 661.6 1402.3 654.7 1400.0 651.6C1397.7 648.5 1392.0 642.9 1389.5 640.1C1387.1 637.3 1383.1 630.8 1380.0 628.7C1376.9 626.6 1367.7 624.8 1363.8 623.1C1359.9 621.4 1348.4 614.6 1343.6 612.9C1338.7 611.2 1328.3 609.5 1323.3 608.9C1318.3 608.3 1307.7 607.5 1303.1 607.9C1298.4 608.2 1288.5 610.1 1284.8 611.9C1281.2 613.8 1275.2 619.9 1272.7 623.1C1270.1 626.2 1266.1 634.7 1264.6 637.2C1263.1 639.8 1260.4 645.2 1258.5 647.4C1256.6 649.5 1249.4 654.4 1249.4 654.4C1249.4 654.4 1239.4 647.7 1236.3 645.3C1233.1 642.9 1227.4 637.3 1224.1 635.2C1220.8 633.1 1211.8 628.6 1207.9 627.1C1204.0 625.6 1194.7 623.4 1191.7 623.1C1188.7 622.7 1182.5 623.1 1179.6 624.1C1176.7 625.0 1170.0 628.7 1167.4 631.2C1164.9 633.6 1157.9 643.1 1155.3 647.4C1152.6 651.7 1146.2 665.6 1146.2 665.6C1146.2 665.6 1135.0 665.6 1135.0 665.6C1135.0 665.6 1126.3 656.1 1122.9 653.4C1119.5 650.8 1110.5 644.7 1106.7 643.3C1102.9 641.9 1094.6 641.5 1090.5 641.3C1086.4 641.1 1070.2 641.3 1070.2 641.3C1070.2 641.3 1079.0 631.8 1082.4 629.1C1085.7 626.5 1096.8 619.0 1100.6 617.0C1104.4 615.0 1113.3 612.2 1116.8 610.9C1120.3 609.6 1127.9 607.2 1131.0 605.9C1134.1 604.5 1140.5 601.9 1143.1 599.8C1145.8 597.7 1152.8 589.9 1155.3 586.6C1157.7 583.3 1161.5 576.1 1163.4 572.5C1165.2 568.8 1171.3 555.9 1173.5 550.2C1175.7 544.5 1179.8 531.9 1181.6 525.9C1183.3 519.9 1186.4 505.3 1187.7 501.6C1188.9 497.8 1194.8 487.4 1194.8 487.4C1194.8 487.4 1205.9 493.5 1205.9 493.5C1205.9 493.5 1210.5 504.1 1212.0 507.7C1213.4 511.2 1216.7 519.7 1218.0 523.9C1219.3 528.0 1223.0 542.9 1224.1 546.1C1225.2 549.3 1230.2 558.3 1230.2 558.3C1230.2 558.3 1244.4 562.3 1244.4 562.3C1244.4 562.3 1252.2 547.3 1254.5 542.1C1256.7 536.9 1260.6 523.7 1262.6 519.8C1264.5 515.9 1272.7 505.6 1272.7 505.6C1272.7 505.6 1280.5 512.3 1282.8 514.8C1285.1 517.3 1293.4 528.8 1297.0 532.0C1300.5 535.2 1308.8 540.1 1313.2 542.1C1317.5 544.0 1328.4 546.8 1333.4 548.2C1338.5 549.5 1348.6 552.1 1353.7 553.2C1358.7 554.4 1368.9 556.6 1373.9 557.3C1378.9 557.9 1389.1 558.5 1394.2 558.3C1399.2 558.0 1414.4 555.2 1414.4 555.2" fill="none" stroke="#1645a5" stroke-width="3.4" stroke-dasharray="0.01 12.9" stroke-linecap="round" stroke-linejoin="round"/>
<path d="M331.5 1455.9C331.5 1455.9 359.1 1454.3 368.3 1453.9C377.5 1453.5 402.2 1452.8 406.7 1452.5C411.2 1452.1 420.1 1450.7 424.5 1449.8C428.9 1448.9 439.9 1446.1 442.3 1445.3C444.7 1444.6 449.2 1442.4 451.2 1440.9C453.2 1439.4 459.7 1433.3 461.9 1430.2C464.1 1427.1 471.4 1414.3 474.3 1408.8C477.3 1403.4 484.3 1390.4 486.8 1383.9C489.3 1377.4 494.8 1356.3 494.8 1356.3C494.8 1356.3 503.7 1363.5 504.6 1367.0C505.5 1370.5 511.0 1419.1 511.7 1422.2C512.5 1425.3 520.6 1431.1 520.6 1431.1C520.6 1431.1 527.3 1432.0 529.5 1431.6C531.7 1431.3 544.7 1427.8 549.1 1426.6C553.6 1425.5 563.4 1422.8 566.9 1422.2C570.4 1421.6 577.6 1420.9 581.2 1421.0C584.7 1421.0 597.2 1422.2 602.5 1423.1C607.8 1424.0 620.3 1427.4 625.7 1428.4C631.0 1429.5 641.6 1431.3 647.0 1432.0C652.4 1432.7 667.0 1434.3 673.7 1434.7C680.4 1435.0 717.3 1435.5 720.0 1435.5C722.7 1435.6 728.1 1435.2 730.8 1435.1C733.5 1435.1 755.9 1435.2 764.3 1435.1C772.7 1435.1 789.4 1434.9 797.8 1434.8C806.2 1434.7 825.0 1434.7 831.3 1434.6C837.6 1434.6 852.2 1434.2 856.4 1434.3C860.6 1434.3 873.2 1435.1 873.2 1435.1C873.2 1435.1 854.4 1437.2 848.1 1437.6C841.8 1438.1 822.9 1439.0 814.6 1439.3C806.2 1439.6 789.4 1440.0 781.0 1440.2C772.7 1440.3 755.9 1440.6 747.5 1440.7C739.2 1440.8 722.4 1441.0 714.0 1441.0C705.7 1441.0 677.1 1440.9 664.8 1440.9C652.5 1440.9 620.3 1441.2 611.4 1441.2C602.5 1441.3 582.5 1441.0 575.8 1441.2C569.1 1441.5 554.9 1442.9 549.1 1443.6C543.3 1444.2 531.4 1445.9 526.0 1447.1C520.5 1448.3 509.1 1452.0 504.6 1453.4C500.2 1454.7 489.0 1458.1 486.8 1458.7C484.6 1459.2 480.2 1460.2 477.9 1460.1C475.7 1460.0 464.6 1458.3 460.1 1457.8C455.6 1457.3 439.6 1455.6 437.0 1455.5C434.3 1455.3 426.3 1456.0 426.3 1456.0C426.3 1456.0 417.4 1483.6 417.4 1483.6C417.4 1483.6 411.2 1482.7 409.4 1481.8C407.5 1481.0 403.6 1477.4 401.4 1476.5C399.1 1475.5 391.5 1473.8 388.2 1472.8C384.9 1471.9 373.4 1467.9 368.3 1466.9C363.2 1465.8 343.4 1463.4 338.5 1462.9C333.5 1462.3 323.6 1461.2 318.6 1461.3C313.6 1461.3 301.3 1462.8 298.7 1463.3C296.1 1463.8 290.8 1466.0 288.7 1466.9C286.7 1467.7 282.4 1469.3 280.8 1470.8C279.1 1472.3 270.8 1482.5 268.8 1484.8C266.9 1487.0 262.6 1492.3 260.9 1493.7C259.2 1495.1 252.9 1497.7 252.9 1497.7C252.9 1497.7 242.5 1493.1 239.0 1491.7C235.5 1490.4 224.0 1486.2 219.1 1484.8C214.2 1483.3 201.7 1480.3 199.2 1479.8C196.8 1479.3 191.8 1478.7 189.3 1478.8C186.8 1478.9 178.1 1479.9 175.3 1480.8C172.6 1481.7 167.5 1484.8 165.4 1486.8C163.2 1488.7 155.0 1498.8 153.5 1500.7C151.9 1502.6 147.5 1508.6 147.5 1508.6C147.5 1508.6 140.5 1509.6 140.5 1509.6C140.5 1509.6 132.5 1504.1 129.6 1502.7C126.7 1501.3 117.1 1497.4 113.7 1496.7C110.3 1496.0 103.2 1496.5 99.7 1496.7C96.3 1496.9 89.0 1498.2 85.8 1498.7C82.6 1499.2 72.9 1500.7 72.9 1500.7C72.9 1500.7 77.9 1494.5 79.8 1492.7C81.8 1491.0 87.1 1487.1 89.8 1485.8C92.5 1484.4 102.3 1480.9 105.7 1479.8C109.1 1478.6 116.1 1476.7 119.6 1475.8C123.1 1474.9 132.1 1472.8 135.5 1471.8C139.0 1470.9 146.9 1468.8 149.5 1467.9C152.1 1466.9 157.3 1464.6 159.4 1462.9C161.6 1461.1 167.6 1455.2 169.4 1451.9C171.1 1448.7 175.8 1434.9 177.3 1429.1C178.8 1423.2 183.5 1399.3 185.3 1389.3C187.1 1379.3 194.2 1334.6 194.2 1334.6C194.2 1334.6 199.8 1354.6 201.2 1361.4C202.6 1368.2 206.1 1391.8 207.2 1399.2C208.3 1406.7 209.8 1423.4 211.2 1429.1C212.5 1434.7 219.1 1450.9 219.1 1450.9C219.1 1450.9 227.8 1454.7 230.1 1454.9C232.3 1455.1 237.0 1454.0 239.0 1452.9C241.0 1451.9 246.7 1447.2 249.0 1445.0C251.2 1442.7 255.2 1437.7 256.9 1435.0C258.6 1432.3 263.2 1422.4 264.9 1419.1C266.6 1415.8 271.8 1406.2 271.8 1406.2C271.8 1406.2 279.8 1406.2 279.8 1406.2C279.8 1406.2 286.4 1413.0 288.7 1415.1C291.1 1417.3 297.9 1423.4 300.7 1425.1C303.4 1426.8 309.9 1429.1 312.6 1430.1C315.3 1431.0 323.6 1433.0 323.6 1433.0" fill="none" stroke="#141618" stroke-width="2.5" stroke-linejoin="round" stroke-linecap="round"/>
<path d="M331.5 1447.0C331.5 1447.0 359.1 1446.2 368.3 1446.0C377.5 1445.7 404.0 1445.1 408.1 1445.0C412.2 1444.9 420.5 1445.1 424.5 1444.5C428.5 1443.8 439.9 1440.1 442.3 1439.1C444.7 1438.1 449.5 1435.7 451.2 1433.8C452.9 1431.8 458.1 1422.6 460.1 1418.6C462.1 1414.7 467.1 1403.4 469.0 1398.2C470.9 1392.9 474.5 1378.6 476.1 1373.2C477.8 1367.9 481.5 1357.2 483.2 1351.9C485.0 1346.5 489.0 1334.6 490.4 1328.7C491.7 1322.8 494.7 1303.4 495.7 1296.7C496.7 1290.0 498.5 1275.5 499.3 1270.0C500.1 1264.5 502.1 1253.6 502.9 1248.1C503.8 1242.6 505.4 1229.9 506.1 1224.5C506.9 1219.1 508.7 1206.8 509.4 1203.1C510.0 1199.3 512.6 1188.0 512.6 1188.0C512.6 1188.0 515.0 1209.5 515.8 1215.9C516.6 1222.4 518.4 1236.3 519.0 1241.7C519.6 1247.0 520.9 1260.5 521.2 1263.1C521.4 1265.7 522.2 1270.9 522.4 1273.6C522.6 1276.2 523.8 1295.4 524.2 1302.0C524.6 1308.7 525.5 1322.1 526.0 1328.7C526.5 1335.4 529.0 1368.1 529.5 1371.5C530.1 1374.8 533.6 1382.0 534.9 1383.9C536.2 1385.9 542.0 1390.2 542.0 1390.2C542.0 1390.2 554.2 1387.4 558.0 1385.7C561.8 1384.0 572.0 1376.9 575.8 1375.0C579.7 1373.1 591.8 1368.8 591.8 1368.8C591.8 1368.8 602.9 1372.8 606.1 1375.0C609.2 1377.3 618.1 1387.0 620.3 1389.3C622.5 1391.5 626.8 1396.1 629.2 1398.2C631.6 1400.2 637.9 1405.1 640.3 1406.6C642.7 1408.2 647.8 1411.0 650.4 1412.2C653.0 1413.4 659.6 1415.9 662.1 1416.7C664.6 1417.5 669.6 1418.6 672.1 1419.2C674.7 1419.8 681.4 1421.2 683.9 1421.7C686.4 1422.3 691.4 1423.5 693.9 1423.9C696.5 1424.4 702.7 1425.2 705.7 1425.6C708.6 1425.9 714.9 1426.5 717.4 1426.8C719.9 1427.0 724.9 1427.4 727.4 1427.6C729.9 1427.8 736.2 1428.2 739.2 1428.4C742.1 1428.6 749.6 1429.1 752.6 1429.3C755.5 1429.4 761.4 1429.5 764.3 1429.6C767.2 1429.7 774.3 1430.0 777.7 1430.1C781.0 1430.2 787.7 1430.4 791.1 1430.4C794.5 1430.5 801.2 1430.4 804.5 1430.4C807.9 1430.4 814.6 1430.4 817.9 1430.4C821.3 1430.4 828.8 1430.4 831.3 1430.4C833.8 1430.4 838.8 1430.5 841.4 1430.4C843.9 1430.4 864.8 1429.3 864.8 1429.3C864.8 1429.3 852.4 1433.7 848.1 1434.3C843.7 1434.8 822.9 1435.3 814.6 1435.6C806.2 1435.9 789.4 1436.6 781.0 1436.8C772.7 1437.1 755.9 1437.4 747.5 1437.6C739.2 1437.9 722.4 1438.8 714.0 1439.0C705.6 1439.1 677.1 1439.0 664.8 1439.1C652.5 1439.2 620.3 1439.8 611.4 1440.0C602.5 1440.2 582.5 1440.4 575.8 1440.9C569.1 1441.4 553.6 1443.7 549.1 1444.5C544.6 1445.2 535.7 1446.9 531.3 1448.0C526.9 1449.1 517.8 1451.6 513.5 1453.4C509.2 1455.1 500.4 1460.5 495.7 1462.3C491.1 1464.0 480.1 1467.2 476.1 1467.6C472.1 1468.0 463.3 1466.3 460.1 1465.8C457.0 1465.3 450.7 1464.0 447.6 1463.1C444.6 1462.3 435.2 1458.7 435.2 1458.7C435.2 1458.7 429.7 1473.3 428.1 1478.3C426.4 1483.2 420.1 1504.1 420.1 1504.1C420.1 1504.1 404.3 1490.7 401.4 1489.0C398.4 1487.2 391.5 1486.0 388.2 1484.8C385.0 1483.6 373.5 1478.3 368.3 1476.8C363.2 1475.3 343.4 1470.6 338.5 1469.8C333.6 1469.1 323.6 1468.8 318.6 1468.8C313.6 1468.8 301.3 1469.5 298.7 1469.8C296.1 1470.2 291.1 1471.8 288.7 1472.8C286.4 1473.9 281.1 1477.0 278.8 1478.8C276.5 1480.6 271.2 1486.6 268.8 1488.7C266.5 1490.9 260.8 1495.3 258.9 1496.7C257.0 1498.1 250.9 1501.7 250.9 1501.7C250.9 1501.7 242.1 1497.0 239.0 1495.7C235.9 1494.5 224.0 1490.2 219.1 1488.7C214.2 1487.3 202.2 1484.3 199.2 1483.8C196.3 1483.2 189.8 1482.9 187.3 1482.8C184.8 1482.7 179.7 1481.9 177.3 1482.8C175.0 1483.6 168.1 1488.5 165.4 1490.7C162.7 1493.0 157.4 1498.9 155.4 1500.7C153.5 1502.5 149.1 1506.6 147.5 1507.6C145.9 1508.7 140.5 1510.6 140.5 1510.6C140.5 1510.6 132.3 1506.1 129.6 1504.7C126.8 1503.2 117.0 1497.8 113.7 1496.7C110.3 1495.6 103.2 1495.1 99.7 1494.7C96.3 1494.3 89.0 1493.8 85.8 1493.7C82.6 1493.6 72.9 1493.7 72.9 1493.7C72.9 1493.7 85.3 1485.7 89.8 1483.8C94.3 1481.8 104.7 1479.2 109.7 1477.8C114.6 1476.4 125.6 1473.8 129.6 1472.8C133.6 1471.8 141.9 1470.0 145.5 1468.8C149.1 1467.7 156.4 1465.2 159.4 1462.9C162.5 1460.6 167.6 1454.4 169.4 1450.9C171.2 1447.5 175.9 1434.7 177.3 1429.1C178.7 1423.4 185.8 1385.7 187.3 1379.3C188.8 1373.0 195.2 1354.5 195.2 1354.5C195.2 1354.5 201.6 1373.0 203.2 1379.3C204.8 1385.6 207.8 1403.2 209.2 1409.2C210.5 1415.2 213.1 1428.3 215.1 1433.0C217.2 1437.8 225.8 1448.4 227.1 1449.9C228.3 1451.5 233.0 1454.9 233.0 1454.9C233.0 1454.9 239.1 1452.1 241.0 1450.9C242.9 1449.8 247.3 1446.8 249.0 1445.0C250.6 1443.1 255.0 1436.1 256.9 1433.0C258.8 1430.0 262.5 1422.3 264.9 1419.1C267.2 1415.9 275.8 1407.2 275.8 1407.2C275.8 1407.2 285.7 1413.9 288.7 1416.1C291.8 1418.3 297.9 1423.4 300.7 1425.1C303.5 1426.7 309.9 1429.1 312.6 1430.1C315.3 1431.0 323.6 1433.0 323.6 1433.0" fill="none" stroke="#eb4030" stroke-width="2.9" stroke-dasharray="11 10" stroke-linejoin="round"/>
<path d="M331.5 1448.0C331.5 1448.0 359.1 1447.2 368.3 1447.0C377.5 1446.7 404.0 1446.2 408.1 1446.0C412.2 1445.7 420.9 1444.2 424.5 1443.6C428.1 1443.0 435.4 1442.1 438.7 1440.9C442.1 1439.7 448.8 1435.9 451.2 1433.8C453.6 1431.6 457.0 1426.0 458.3 1423.1C459.6 1420.2 465.4 1403.5 467.2 1398.2C469.1 1392.8 472.9 1381.7 474.3 1376.8C475.8 1372.0 478.8 1360.3 479.7 1357.2C480.6 1354.1 482.6 1347.9 483.2 1344.8C483.9 1341.6 486.1 1323.5 486.8 1319.8C487.5 1316.2 489.6 1308.7 490.4 1305.6C491.1 1302.5 492.4 1296.3 493.0 1293.1C493.7 1290.0 495.0 1283.4 495.7 1280.7C496.4 1278.0 498.9 1272.8 499.3 1270.0C499.6 1267.2 500.2 1247.9 500.8 1241.7C501.3 1235.5 503.5 1220.5 504.0 1217.0C504.5 1213.5 505.8 1206.6 506.1 1203.1C506.5 1199.6 507.8 1183.8 508.3 1177.3C508.8 1170.9 510.1 1154.8 510.4 1151.6C510.8 1148.4 512.2 1141.9 512.6 1138.7C513.0 1135.5 513.4 1129.1 513.7 1125.9C513.9 1122.6 514.5 1116.2 514.7 1113.0C515.0 1109.8 515.5 1103.3 515.8 1100.1C516.1 1096.9 516.6 1090.5 516.9 1087.3C517.1 1084.0 517.7 1077.6 517.9 1074.4C518.2 1071.2 518.7 1064.7 519.0 1061.5C519.3 1058.3 519.8 1051.9 520.1 1048.7C520.4 1045.4 520.9 1039.0 521.2 1035.8C521.4 1032.6 522.0 1026.1 522.2 1022.9C522.5 1019.7 523.0 1013.3 523.3 1010.1C523.6 1006.8 524.1 1000.4 524.4 997.2C524.6 994.0 525.2 987.5 525.4 984.3C525.7 981.1 526.3 974.7 526.5 971.5C526.8 968.2 527.4 960.2 527.6 956.5C527.8 952.7 528.2 931.8 528.2 931.8C528.2 931.8 528.6 939.0 528.7 941.4C528.7 943.9 529.5 970.4 529.7 980.0C530.0 989.7 530.5 1009.0 530.8 1018.6C531.1 1028.3 531.6 1047.6 531.9 1057.2C532.1 1066.9 532.7 1086.2 533.0 1095.8C533.2 1105.5 533.8 1128.0 534.0 1134.4C534.2 1140.9 534.8 1153.7 535.1 1160.2C535.4 1166.6 535.9 1181.6 536.2 1188.0C536.4 1194.5 537.0 1207.3 537.2 1213.8C537.5 1220.2 538.1 1233.6 538.3 1239.5C538.6 1245.4 539.2 1259.6 539.4 1263.1C539.6 1266.6 540.0 1274.0 540.2 1277.1C540.4 1280.2 540.9 1286.5 541.1 1289.6C541.3 1292.7 541.8 1300.7 542.0 1303.8C542.2 1306.9 542.7 1313.2 542.9 1316.3C543.1 1319.4 543.2 1325.7 543.8 1328.7C544.3 1331.8 546.4 1338.1 547.3 1341.2C548.3 1344.3 551.8 1354.6 551.8 1354.6C551.8 1354.6 565.1 1352.8 565.1 1352.8C565.1 1352.8 572.1 1344.3 574.0 1341.2C576.0 1338.1 579.7 1330.9 581.2 1327.9C582.6 1324.8 585.3 1318.6 586.5 1315.4C587.7 1312.2 589.7 1305.2 590.9 1302.0C592.1 1298.9 594.9 1292.7 596.3 1289.6C597.6 1286.5 599.5 1279.3 601.8 1276.8C604.0 1274.3 613.5 1270.1 613.5 1270.1C613.5 1270.1 620.9 1279.7 622.7 1282.7C624.5 1285.6 627.2 1292.0 628.6 1295.2C629.9 1298.4 632.4 1305.5 633.6 1308.6C634.8 1311.8 637.4 1318.1 638.6 1321.2C639.9 1324.3 642.4 1330.6 643.7 1333.8C645.0 1336.9 648.0 1344.0 649.5 1347.2C651.1 1350.4 654.4 1356.7 656.2 1359.7C658.0 1362.8 662.3 1369.9 664.6 1373.1C666.9 1376.4 671.9 1382.8 674.7 1385.7C677.4 1388.7 684.1 1395.0 687.2 1397.4C690.3 1399.9 697.6 1404.1 700.6 1405.8C703.7 1407.5 710.1 1410.4 713.2 1411.7C716.3 1412.9 722.6 1414.9 725.8 1415.9C728.9 1416.8 736.1 1418.6 739.2 1419.2C742.3 1419.8 748.6 1420.4 751.7 1420.9C754.9 1421.4 761.1 1423.0 764.3 1423.4C767.5 1423.8 774.5 1424.0 777.7 1424.2C780.8 1424.5 787.1 1425.3 790.3 1425.6C793.4 1425.8 799.7 1426.1 802.8 1426.3C806.0 1426.4 813.1 1426.7 816.2 1426.8C819.4 1426.8 825.7 1426.7 828.8 1426.8C831.9 1426.8 838.2 1427.2 841.4 1427.3C844.5 1427.4 850.8 1427.5 853.9 1427.6C857.1 1427.7 868.2 1427.9 868.2 1427.9C868.2 1427.9 859.5 1431.3 856.4 1431.8C853.4 1432.3 837.6 1433.8 831.3 1434.3C825.0 1434.8 812.5 1435.4 806.2 1435.6C799.9 1435.9 787.3 1436.1 781.0 1436.3C774.8 1436.5 755.9 1437.3 747.5 1437.6C739.2 1438.0 722.4 1438.9 714.0 1439.0C705.6 1439.0 677.1 1438.1 664.8 1438.2C652.5 1438.3 620.3 1439.7 611.4 1440.0C602.5 1440.3 582.5 1440.5 575.8 1440.9C569.1 1441.3 553.6 1442.8 549.1 1443.6C544.6 1444.3 535.7 1446.6 531.3 1448.0C526.9 1449.4 511.6 1455.2 508.2 1456.9C504.7 1458.6 498.6 1463.4 495.7 1465.8C492.8 1468.3 488.2 1474.5 485.0 1476.5C481.8 1478.5 473.8 1481.1 470.8 1481.8C467.7 1482.5 461.4 1483.1 458.3 1482.7C455.2 1482.4 445.9 1479.2 445.9 1479.2C445.9 1479.2 437.0 1484.5 437.0 1484.5C437.0 1484.5 434.0 1507.1 433.4 1510.3C432.8 1513.5 430.9 1519.7 429.8 1522.8C428.8 1525.8 425.4 1535.4 424.5 1537.0C423.6 1538.7 419.2 1542.4 419.2 1542.4C419.2 1542.4 414.9 1532.1 412.9 1529.0C411.0 1525.9 405.9 1519.4 403.1 1516.5C400.4 1513.7 392.1 1506.9 389.8 1505.0C387.4 1503.1 381.3 1498.5 380.0 1497.9C378.7 1497.2 375.7 1497.2 374.3 1496.7C372.9 1496.2 362.4 1492.1 358.4 1490.7C354.3 1489.4 343.4 1485.9 338.5 1484.8C333.6 1483.7 323.5 1482.4 318.6 1481.8C313.6 1481.2 302.3 1479.7 298.7 1479.8C295.1 1479.9 287.8 1481.3 284.8 1482.8C281.8 1484.3 277.1 1489.3 274.8 1491.7C272.6 1494.2 267.8 1502.3 264.9 1504.7C261.9 1507.0 250.9 1510.6 250.9 1510.6C250.9 1510.6 241.9 1508.0 239.0 1506.6C236.1 1505.3 228.7 1500.4 225.1 1498.7C221.4 1497.0 213.1 1493.8 209.2 1492.7C205.3 1491.6 197.2 1490.0 193.2 1489.7C189.3 1489.5 181.1 1489.6 177.3 1490.7C173.5 1491.9 166.4 1496.2 163.4 1498.7C160.4 1501.2 156.5 1508.2 153.5 1510.6C150.4 1513.0 139.5 1517.6 139.5 1517.6C139.5 1517.6 132.1 1513.9 129.6 1512.6C127.1 1511.4 117.5 1506.0 113.7 1504.7C109.8 1503.3 101.2 1502.0 97.7 1501.7C94.3 1501.3 86.6 1501.9 83.8 1501.7C81.1 1501.5 72.9 1499.7 72.9 1499.7C72.9 1499.7 85.4 1492.7 89.8 1490.7C94.1 1488.7 104.8 1484.4 109.7 1482.8C114.6 1481.2 124.6 1478.9 129.6 1477.8C134.5 1476.7 146.2 1474.9 149.5 1473.8C152.7 1472.7 159.2 1469.5 161.4 1466.9C163.6 1464.2 169.5 1452.2 171.4 1447.0C173.2 1441.7 177.6 1423.1 179.3 1415.1C181.1 1407.1 186.0 1381.3 187.3 1373.4C188.6 1365.4 191.3 1341.5 191.3 1341.5C191.3 1341.5 197.2 1345.5 197.2 1345.5C197.2 1345.5 202.0 1369.3 203.2 1377.3C204.4 1385.3 206.1 1406.1 207.2 1413.1C208.3 1420.2 211.8 1436.8 213.1 1441.0C214.5 1445.2 221.1 1456.9 221.1 1456.9C221.1 1456.9 235.0 1458.9 235.0 1458.9C235.0 1458.9 244.4 1453.5 247.0 1450.9C249.5 1448.4 254.7 1440.4 256.9 1437.0C259.1 1433.6 262.7 1426.5 264.9 1423.1C267.0 1419.7 274.8 1409.2 274.8 1409.2C274.8 1409.2 281.0 1411.8 282.8 1413.1C284.5 1414.5 291.5 1422.5 294.7 1425.1C297.9 1427.7 305.1 1432.5 308.6 1434.0C312.2 1435.6 323.6 1438.0 323.6 1438.0" fill="none" stroke="#1645a5" stroke-width="3.4" stroke-dasharray="0.01 12.9" stroke-linecap="round" stroke-linejoin="round"/>
<path d="M1346.1 1379.4C1346.1 1379.4 1376.6 1376.5 1386.8 1375.8C1397.0 1375.1 1419.7 1373.8 1430.0 1373.5C1440.3 1373.2 1461.0 1373.7 1471.3 1373.4C1481.6 1373.1 1514.9 1371.2 1522.6 1370.8C1530.3 1370.4 1547.0 1369.5 1553.4 1369.0C1559.8 1368.5 1573.9 1367.3 1579.1 1366.5C1584.3 1365.6 1594.5 1363.0 1599.6 1361.8C1604.7 1360.7 1614.9 1358.2 1620.1 1357.2C1625.3 1356.2 1642.4 1353.7 1645.8 1352.9C1649.1 1352.0 1655.8 1349.7 1658.6 1347.7C1661.4 1345.7 1666.7 1339.4 1668.8 1336.2C1671.0 1333.0 1674.8 1324.7 1676.5 1320.8C1678.2 1316.8 1683.6 1301.8 1684.2 1300.3C1684.8 1298.7 1686.2 1295.6 1686.8 1294.0C1687.4 1292.4 1693.0 1274.7 1694.5 1270.9C1696.0 1267.2 1702.2 1256.8 1702.2 1256.8C1702.2 1256.8 1711.2 1253.0 1711.2 1253.0C1711.2 1253.0 1720.2 1255.1 1722.7 1256.8C1725.3 1258.5 1734.8 1266.9 1738.1 1270.9C1741.4 1275.0 1747.7 1286.4 1750.9 1291.5C1754.2 1296.6 1767.0 1316.4 1768.9 1319.2C1770.9 1322.0 1775.9 1327.8 1777.9 1329.6C1779.9 1331.4 1784.4 1334.6 1786.8 1335.6C1789.3 1336.5 1794.6 1337.1 1797.2 1337.1C1799.9 1337.0 1807.5 1335.7 1810.6 1334.8C1813.8 1333.9 1819.7 1331.1 1822.6 1329.6C1825.4 1328.1 1831.5 1323.9 1834.5 1322.2C1837.4 1320.4 1843.9 1316.6 1846.4 1315.5C1848.9 1314.3 1854.1 1312.4 1856.8 1311.7C1859.5 1311.1 1867.6 1309.9 1870.2 1309.5C1872.8 1309.1 1878.1 1308.7 1880.7 1308.0C1883.2 1307.3 1891.1 1303.5 1891.1 1303.5C1891.1 1303.5 1892.1 1308.6 1891.8 1310.2C1891.5 1311.9 1889.3 1318.3 1888.1 1320.7C1886.9 1323.1 1883.9 1327.5 1882.1 1329.6C1880.4 1331.7 1875.7 1336.6 1873.2 1338.5C1870.7 1340.4 1864.4 1343.9 1861.3 1345.2C1858.1 1346.6 1850.2 1348.9 1846.4 1349.7C1842.6 1350.5 1831.9 1352.1 1827.0 1352.7C1822.2 1353.3 1810.3 1354.5 1804.7 1354.9C1799.1 1355.4 1787.9 1356.2 1782.3 1356.4C1776.7 1356.6 1740.7 1357.0 1727.9 1357.2C1715.0 1357.4 1683.0 1357.9 1676.5 1358.0C1670.1 1358.1 1657.3 1358.4 1650.9 1358.8C1644.5 1359.1 1630.4 1359.9 1625.2 1360.5C1620.1 1361.2 1607.2 1363.4 1604.7 1364.4C1602.2 1365.4 1598.5 1369.8 1597.0 1372.1C1595.6 1374.4 1593.0 1381.6 1591.9 1384.9C1590.8 1388.2 1588.0 1398.4 1586.8 1402.9C1585.5 1407.4 1582.4 1418.3 1581.6 1420.8C1580.9 1423.4 1578.5 1431.1 1578.5 1431.1C1578.5 1431.1 1572.8 1429.8 1571.4 1428.5C1569.9 1427.3 1565.9 1420.5 1563.7 1418.3C1561.4 1416.0 1554.3 1410.2 1550.8 1408.0C1547.3 1405.9 1535.6 1400.0 1530.3 1397.7C1525.0 1395.5 1511.3 1390.3 1504.7 1388.8C1498.0 1387.3 1479.7 1385.0 1471.3 1384.4C1462.9 1383.8 1440.3 1383.5 1430.0 1383.2C1419.7 1383.0 1397.6 1382.4 1386.8 1382.1C1376.0 1381.8 1352.8 1381.0 1341.5 1381.0C1330.2 1380.9 1301.9 1381.5 1296.3 1381.7C1290.6 1381.8 1277.1 1382.8 1273.6 1383.2C1270.2 1383.7 1262.6 1385.5 1260.1 1386.6C1257.5 1387.8 1252.8 1391.2 1251.0 1393.4C1249.3 1395.7 1245.6 1403.4 1244.2 1407.0C1242.9 1410.6 1239.1 1424.0 1237.4 1429.6C1235.7 1435.3 1230.7 1452.3 1230.7 1452.3C1230.7 1452.3 1221.6 1457.9 1221.6 1457.9C1221.6 1457.9 1209.1 1449.6 1205.8 1447.7C1202.5 1445.8 1195.6 1442.5 1192.2 1440.9C1188.7 1439.4 1179.8 1435.7 1176.3 1434.2C1172.9 1432.6 1164.4 1427.8 1162.8 1427.4C1161.1 1426.9 1156.0 1428.5 1156.0 1428.5C1156.0 1428.5 1146.9 1437.4 1144.7 1440.9C1142.5 1444.5 1137.6 1457.0 1135.6 1461.3C1133.7 1465.6 1127.7 1478.3 1127.7 1478.3C1127.7 1478.3 1117.5 1468.1 1115.3 1465.8C1113.0 1463.6 1108.2 1458.3 1106.2 1456.8C1104.2 1455.3 1097.2 1452.3 1097.2 1452.3C1097.2 1452.3 1084.7 1457.9 1084.7 1457.9C1084.7 1457.9 1090.2 1446.4 1092.6 1443.2C1095.0 1440.0 1101.3 1434.1 1103.9 1431.9C1106.6 1429.7 1112.3 1425.8 1115.3 1424.0C1118.2 1422.1 1126.3 1418.0 1128.8 1416.1C1131.4 1414.1 1136.0 1409.6 1137.9 1407.0C1139.7 1404.4 1143.7 1397.1 1144.7 1393.4C1145.6 1389.8 1150.2 1364.6 1151.5 1355.0C1152.7 1345.3 1156.0 1312.5 1157.1 1298.4C1158.2 1284.3 1159.7 1252.6 1160.5 1241.8C1161.4 1231.0 1164.3 1201.8 1165.0 1198.8C1165.7 1195.9 1173.0 1189.8 1173.0 1189.8C1173.0 1189.8 1175.8 1220.3 1176.3 1230.5C1176.9 1240.7 1178.2 1288.8 1178.6 1298.4C1179.0 1308.0 1179.8 1328.3 1180.9 1336.9C1181.9 1345.4 1186.5 1367.4 1187.7 1370.8C1188.9 1374.2 1196.7 1382.1 1196.7 1382.1C1196.7 1382.1 1203.8 1381.1 1205.8 1379.8C1207.7 1378.6 1213.0 1373.4 1214.8 1370.8C1216.6 1368.2 1220.4 1360.8 1221.6 1357.2C1222.8 1353.6 1226.6 1336.8 1228.4 1330.1C1230.2 1323.3 1237.4 1298.4 1237.4 1298.4C1237.4 1298.4 1245.4 1301.8 1245.4 1301.8C1245.4 1301.8 1251.1 1313.0 1253.3 1316.5C1255.5 1320.0 1261.7 1329.3 1264.6 1332.3C1267.5 1335.4 1274.4 1340.5 1278.2 1342.5C1281.9 1344.5 1291.6 1348.1 1296.3 1349.3C1301.0 1350.5 1313.5 1352.1 1318.9 1352.7C1324.3 1353.2 1340.4 1353.8 1340.4 1353.8" fill="none" stroke="#141618" stroke-width="2.5" stroke-linejoin="round" stroke-linecap="round"/>
<path d="M1346.1 1366.3C1346.1 1366.3 1376.6 1364.4 1386.8 1364.0C1397.0 1363.6 1419.7 1362.9 1430.0 1362.9C1440.3 1362.9 1461.0 1363.9 1471.3 1363.9C1481.6 1363.9 1509.8 1362.9 1522.6 1362.6C1535.4 1362.3 1567.5 1361.6 1573.9 1361.3C1580.4 1361.0 1593.2 1359.6 1599.6 1358.8C1606.0 1357.9 1620.1 1354.9 1625.2 1354.1C1630.3 1353.3 1642.3 1352.5 1645.8 1351.6C1649.2 1350.6 1656.0 1347.6 1658.6 1345.2C1661.2 1342.7 1664.7 1335.7 1666.3 1332.3C1667.9 1329.0 1671.4 1319.9 1672.7 1315.7C1674.0 1311.4 1675.8 1302.2 1676.5 1297.7C1677.3 1293.2 1680.5 1271.9 1681.7 1263.2C1682.8 1254.6 1685.6 1231.8 1686.8 1222.2C1688.0 1212.6 1690.8 1190.2 1691.9 1183.7C1693.1 1177.2 1697.2 1162.6 1698.4 1158.1C1699.5 1153.5 1701.9 1143.7 1703.5 1140.1C1705.1 1136.5 1710.7 1128.9 1712.5 1127.3C1714.3 1125.6 1721.4 1123.4 1721.4 1123.4C1721.4 1123.4 1728.8 1131.7 1730.4 1135.0C1732.0 1138.3 1736.3 1152.3 1738.1 1158.1C1739.9 1163.9 1744.0 1177.3 1745.8 1183.7C1747.7 1190.2 1752.1 1206.2 1753.5 1211.9C1754.9 1217.7 1757.1 1229.3 1758.6 1235.0C1760.1 1240.7 1764.1 1254.4 1766.3 1260.7C1768.5 1267.0 1775.1 1282.1 1776.6 1286.3C1778.1 1290.6 1780.6 1301.0 1781.6 1303.5C1782.6 1306.1 1785.1 1311.0 1786.8 1313.2C1788.5 1315.4 1797.2 1323.6 1797.2 1323.6C1797.2 1323.6 1804.0 1324.8 1806.2 1324.4C1808.4 1324.0 1817.2 1320.9 1819.6 1319.9C1822.0 1318.9 1826.3 1316.1 1828.5 1314.7C1830.7 1313.3 1838.3 1307.7 1840.4 1306.5C1842.5 1305.3 1847.1 1303.6 1849.4 1302.8C1851.7 1302.0 1859.0 1299.9 1861.3 1299.1C1863.6 1298.3 1868.2 1296.7 1870.2 1295.3C1872.2 1294.0 1880.1 1286.8 1882.1 1284.9C1884.1 1283.0 1889.6 1276.7 1889.6 1276.7C1889.6 1276.7 1891.2 1281.7 1891.1 1283.4C1890.9 1285.1 1889.0 1291.5 1888.1 1293.9C1887.2 1296.2 1884.6 1300.5 1883.6 1302.8C1882.7 1305.1 1880.4 1311.8 1879.2 1314.7C1877.9 1317.6 1875.0 1324.1 1873.2 1326.6C1871.4 1329.2 1866.7 1333.5 1864.3 1335.6C1861.9 1337.6 1854.4 1343.3 1852.4 1344.5C1850.3 1345.7 1845.7 1346.8 1843.4 1347.5C1841.2 1348.2 1834.4 1350.6 1831.5 1351.2C1828.6 1351.8 1822.6 1352.4 1819.6 1352.7C1816.6 1353.0 1808.4 1353.8 1804.7 1354.2C1801.0 1354.6 1793.5 1355.4 1789.8 1355.7C1786.1 1355.9 1778.6 1356.3 1774.9 1356.4C1771.2 1356.5 1739.6 1357.3 1727.9 1357.5C1716.1 1357.7 1681.7 1357.9 1676.5 1358.0C1671.4 1358.1 1660.6 1358.5 1656.0 1359.3C1651.4 1360.0 1642.1 1362.9 1638.1 1364.4C1634.0 1365.9 1625.4 1370.4 1622.7 1372.1C1619.9 1373.7 1614.5 1377.4 1612.4 1379.8C1610.3 1382.2 1606.3 1389.5 1604.7 1392.6C1603.2 1395.7 1600.5 1402.3 1599.6 1405.4C1598.6 1408.6 1597.8 1415.1 1597.0 1418.3C1596.2 1421.4 1593.0 1433.0 1591.9 1436.2C1590.8 1439.5 1587.9 1446.7 1586.8 1449.1C1585.7 1451.4 1581.6 1458.0 1581.6 1458.0C1581.6 1458.0 1575.9 1449.4 1573.9 1446.5C1572.0 1443.6 1566.6 1434.7 1563.7 1431.1C1560.7 1427.5 1552.6 1419.1 1548.3 1415.7C1544.0 1412.3 1533.2 1405.6 1527.7 1402.9C1522.3 1400.2 1508.8 1394.3 1502.1 1392.6C1495.4 1390.9 1479.0 1389.4 1471.3 1388.8C1463.6 1388.1 1440.3 1387.2 1430.0 1386.6C1419.7 1386.1 1397.6 1384.7 1386.8 1384.4C1376.0 1384.1 1352.8 1384.4 1341.5 1384.4C1330.2 1384.4 1301.9 1384.3 1296.3 1384.4C1290.6 1384.5 1277.2 1385.0 1273.6 1385.5C1270.1 1386.1 1262.7 1388.6 1260.1 1390.0C1257.4 1391.5 1252.8 1395.5 1251.0 1398.0C1249.2 1400.4 1245.6 1408.0 1244.2 1411.5C1242.8 1415.1 1239.1 1426.8 1237.4 1431.9C1235.7 1437.0 1231.7 1450.1 1230.7 1452.3C1229.6 1454.4 1223.9 1459.0 1223.9 1459.0C1223.9 1459.0 1209.2 1451.8 1205.8 1450.0C1202.3 1448.1 1195.7 1443.8 1192.2 1442.1C1188.7 1440.3 1179.8 1436.9 1176.3 1435.3C1172.9 1433.7 1164.4 1429.0 1162.8 1428.5C1161.1 1428.0 1156.0 1429.6 1156.0 1429.6C1156.0 1429.6 1146.9 1439.4 1144.7 1443.2C1142.4 1447.0 1137.5 1459.6 1135.6 1463.6C1133.7 1467.6 1127.7 1479.4 1127.7 1479.4C1127.7 1479.4 1118.0 1470.5 1115.3 1468.1C1112.5 1465.7 1106.0 1460.2 1103.9 1459.0C1101.9 1457.9 1097.0 1456.6 1094.9 1456.8C1092.7 1456.9 1087.0 1460.2 1087.0 1460.2C1087.0 1460.2 1094.4 1449.0 1097.2 1445.5C1099.9 1441.9 1107.2 1432.9 1110.7 1429.6C1114.3 1426.3 1123.7 1420.5 1126.6 1418.3C1129.5 1416.1 1135.6 1412.1 1137.9 1409.3C1140.1 1406.4 1143.7 1399.4 1144.7 1395.7C1145.6 1392.0 1150.2 1366.9 1151.5 1357.2C1152.7 1347.5 1155.9 1312.5 1157.1 1298.4C1158.4 1284.3 1160.8 1253.1 1161.6 1241.8C1162.5 1230.5 1164.7 1199.7 1165.0 1196.6C1165.3 1193.4 1167.3 1184.1 1167.3 1184.1C1167.3 1184.1 1173.0 1187.5 1173.0 1187.5C1173.0 1187.5 1175.8 1219.7 1176.3 1230.5C1176.9 1241.3 1178.2 1289.3 1178.6 1298.4C1179.0 1307.5 1179.8 1325.6 1180.9 1334.6C1182.0 1343.6 1186.6 1369.8 1187.7 1373.1C1188.7 1376.3 1196.7 1383.2 1196.7 1383.2C1196.7 1383.2 1203.8 1381.2 1205.8 1379.8C1207.8 1378.5 1213.0 1373.4 1214.8 1370.8C1216.6 1368.2 1220.4 1360.8 1221.6 1357.2C1222.8 1353.6 1226.6 1336.8 1228.4 1330.1C1230.2 1323.3 1237.4 1298.4 1237.4 1298.4C1237.4 1298.4 1245.4 1301.8 1245.4 1301.8C1245.4 1301.8 1251.1 1313.0 1253.3 1316.5C1255.5 1320.0 1261.7 1329.3 1264.6 1332.3C1267.5 1335.4 1274.4 1340.5 1278.2 1342.5C1281.9 1344.5 1291.6 1348.1 1296.3 1349.3C1301.0 1350.5 1313.5 1352.1 1318.9 1352.7C1324.3 1353.2 1340.4 1353.8 1340.4 1353.8" fill="none" stroke="#eb4030" stroke-width="2.9" stroke-dasharray="11 10" stroke-linejoin="round"/>
<path d="M1346.1 1365.1C1346.1 1365.1 1376.6 1364.4 1386.8 1364.0C1397.0 1363.6 1419.7 1362.0 1430.0 1361.7C1440.3 1361.5 1461.0 1362.0 1471.3 1361.8C1481.6 1361.7 1509.8 1360.8 1522.6 1360.5C1535.4 1360.3 1567.5 1360.0 1573.9 1359.8C1580.4 1359.6 1593.2 1358.8 1599.6 1358.0C1606.0 1357.1 1620.1 1353.7 1625.2 1352.9C1630.3 1352.0 1643.0 1351.0 1645.8 1350.3C1648.5 1349.6 1654.1 1347.3 1656.0 1345.2C1658.0 1343.1 1662.2 1334.8 1663.7 1331.0C1665.2 1327.3 1668.9 1315.6 1670.1 1310.5C1671.4 1305.5 1673.2 1295.2 1674.0 1290.0C1674.8 1284.8 1676.0 1273.8 1676.5 1268.4C1677.1 1263.0 1678.5 1249.1 1679.1 1242.7C1679.7 1236.3 1681.1 1219.0 1681.7 1211.9C1682.3 1204.9 1683.8 1190.8 1684.2 1183.7C1684.7 1176.6 1685.2 1160.0 1685.5 1152.9C1685.8 1145.9 1686.5 1131.8 1686.8 1124.7C1687.1 1117.7 1687.6 1101.6 1688.1 1093.9C1688.6 1086.2 1690.2 1069.5 1690.7 1063.1C1691.1 1056.7 1691.5 1043.9 1691.9 1037.5C1692.4 1031.1 1693.9 1017.6 1694.5 1011.8C1695.1 1006.1 1696.3 994.5 1697.1 988.7C1697.9 983.0 1699.8 969.7 1700.9 965.7C1702.0 961.6 1705.7 952.5 1707.3 950.3C1708.9 948.0 1716.3 943.8 1716.3 943.8C1716.3 943.8 1723.7 952.1 1725.3 955.4C1726.9 958.7 1730.5 970.7 1731.7 975.9C1732.9 981.2 1734.5 995.2 1735.5 1001.6C1736.6 1008.0 1739.9 1026.6 1740.7 1032.4C1741.5 1038.1 1742.5 1049.7 1743.2 1055.4C1744.0 1061.2 1746.2 1076.6 1747.1 1083.7C1748.0 1090.7 1749.9 1107.4 1750.9 1114.5C1752.0 1121.5 1754.6 1135.6 1756.1 1142.7C1757.5 1149.7 1760.9 1163.8 1762.5 1170.9C1764.1 1177.9 1767.1 1192.1 1768.9 1199.1C1770.7 1206.1 1774.8 1220.9 1776.6 1227.3C1778.4 1233.8 1783.1 1247.9 1784.3 1253.0C1785.5 1258.1 1786.7 1270.4 1787.6 1273.7C1788.4 1277.1 1791.1 1283.4 1792.8 1286.4C1794.4 1289.4 1799.2 1297.0 1801.7 1299.1C1804.2 1301.2 1813.6 1304.3 1813.6 1304.3C1813.6 1304.3 1823.9 1301.3 1827.0 1299.8C1830.2 1298.3 1836.0 1294.3 1838.9 1292.4C1841.9 1290.4 1849.4 1285.3 1852.4 1282.7C1855.3 1280.0 1860.6 1273.7 1862.8 1270.8C1864.9 1267.8 1868.8 1261.3 1870.2 1258.1C1871.7 1254.9 1873.8 1247.6 1874.7 1244.7C1875.6 1241.8 1877.0 1235.8 1877.7 1232.8C1878.3 1229.8 1879.4 1223.3 1879.9 1220.1C1880.5 1217.0 1881.6 1210.6 1882.1 1207.5C1882.7 1204.3 1883.8 1197.2 1884.4 1194.1C1884.9 1190.9 1886.1 1184.6 1886.6 1181.4C1887.2 1178.2 1888.3 1171.1 1888.8 1168.0C1889.4 1164.8 1890.8 1155.3 1890.8 1155.3C1890.8 1155.3 1891.2 1160.4 1891.1 1162.0C1891.0 1163.7 1890.1 1171.5 1889.6 1174.7C1889.1 1177.8 1887.8 1184.2 1887.4 1187.3C1886.9 1190.5 1886.3 1197.6 1885.9 1200.8C1885.4 1203.9 1884.2 1210.3 1883.6 1213.4C1883.1 1216.6 1882.0 1222.9 1881.4 1226.1C1880.8 1229.2 1879.7 1235.6 1879.2 1238.7C1878.6 1241.9 1877.6 1248.3 1876.9 1251.4C1876.3 1254.5 1874.7 1260.9 1874.0 1264.1C1873.2 1267.2 1871.8 1274.3 1871.0 1277.5C1870.2 1280.7 1868.3 1287.0 1867.2 1290.1C1866.2 1293.3 1864.0 1299.7 1862.8 1302.8C1861.6 1305.9 1858.9 1312.3 1857.6 1315.5C1856.3 1318.6 1854.2 1325.2 1852.4 1328.1C1850.5 1331.0 1844.0 1338.3 1841.2 1340.8C1838.3 1343.3 1831.3 1347.6 1828.5 1349.0C1825.7 1350.3 1819.7 1352.1 1816.6 1352.7C1813.5 1353.3 1806.5 1353.8 1803.2 1354.2C1799.8 1354.6 1792.8 1355.4 1789.8 1355.7C1786.8 1355.9 1780.9 1356.2 1777.9 1356.4C1774.9 1356.6 1759.6 1357.8 1753.5 1358.0C1747.4 1358.2 1711.8 1358.9 1702.2 1359.3C1692.6 1359.7 1668.5 1361.0 1663.7 1361.8C1658.9 1362.7 1649.8 1367.3 1645.8 1369.5C1641.7 1371.7 1633.9 1376.9 1630.4 1379.8C1626.9 1382.7 1619.8 1388.7 1617.5 1392.6C1615.3 1396.5 1612.2 1407.9 1611.1 1413.1C1610.1 1418.4 1608.0 1437.5 1607.3 1443.9C1606.5 1450.3 1605.4 1463.2 1604.7 1469.6C1604.1 1476.0 1602.8 1488.8 1602.1 1495.2C1601.5 1501.6 1600.5 1515.4 1599.6 1520.9C1598.7 1526.4 1594.5 1542.7 1594.5 1542.7C1594.5 1542.7 1586.2 1521.5 1584.2 1515.8C1582.1 1510.0 1578.2 1497.2 1576.5 1492.7C1574.8 1488.1 1571.0 1479.1 1568.8 1474.7C1566.6 1470.3 1561.5 1461.0 1558.5 1456.8C1555.6 1452.5 1547.5 1441.0 1543.1 1437.5C1538.7 1434.1 1527.8 1430.7 1522.6 1428.5C1517.4 1426.4 1503.3 1420.5 1497.0 1418.3C1490.6 1416.1 1477.6 1412.0 1471.3 1410.6C1465.0 1409.2 1449.6 1407.5 1445.7 1406.7C1441.7 1405.9 1434.0 1402.8 1430.0 1402.5C1426.0 1402.1 1397.6 1401.6 1386.8 1401.3C1376.0 1401.1 1352.8 1400.8 1341.5 1400.2C1330.2 1399.6 1299.7 1397.0 1296.3 1396.8C1292.9 1396.6 1286.0 1396.3 1282.7 1396.8C1279.3 1397.4 1265.9 1400.6 1262.3 1402.5C1258.8 1404.4 1253.4 1410.6 1251.0 1413.8C1248.6 1417.0 1243.8 1425.5 1242.0 1429.6C1240.1 1433.8 1237.0 1445.8 1235.2 1450.0C1233.4 1454.2 1226.1 1465.8 1226.1 1465.8C1226.1 1465.8 1217.5 1462.8 1214.8 1461.3C1212.1 1459.8 1204.6 1454.6 1201.2 1452.3C1197.9 1449.9 1189.6 1443.3 1185.4 1440.9C1181.2 1438.6 1165.0 1431.9 1165.0 1431.9C1165.0 1431.9 1153.7 1436.4 1153.7 1436.4C1153.7 1436.4 1146.6 1448.1 1144.7 1452.3C1142.7 1456.4 1139.3 1467.7 1137.9 1470.4C1136.4 1473.0 1130.0 1479.4 1130.0 1479.4C1130.0 1479.4 1120.2 1474.9 1117.5 1472.6C1114.8 1470.3 1108.3 1461.4 1106.2 1459.0C1104.1 1456.7 1097.2 1450.0 1097.2 1450.0C1097.2 1450.0 1088.1 1461.3 1088.1 1461.3C1088.1 1461.3 1099.0 1440.0 1101.7 1436.4C1104.3 1432.9 1112.1 1427.2 1115.3 1425.1C1118.4 1423.0 1126.0 1420.9 1128.8 1418.3C1131.6 1415.8 1138.2 1406.9 1140.1 1402.5C1142.1 1398.0 1145.6 1383.9 1146.9 1377.6C1148.3 1371.3 1152.5 1348.8 1153.7 1339.1C1154.9 1329.4 1158.3 1289.9 1159.4 1275.8C1160.4 1261.6 1162.2 1228.2 1162.8 1219.2C1163.3 1210.1 1165.0 1183.0 1165.0 1183.0C1165.0 1183.0 1173.0 1188.6 1173.0 1188.6C1173.0 1188.6 1174.7 1239.0 1175.2 1253.1C1175.7 1267.3 1176.9 1298.4 1177.5 1309.7C1178.1 1321.0 1179.9 1348.6 1180.9 1355.0C1181.8 1361.3 1187.7 1379.8 1187.7 1379.8C1187.7 1379.8 1196.7 1384.4 1196.7 1384.4C1196.7 1384.4 1203.7 1381.4 1205.8 1379.8C1207.8 1378.3 1213.2 1373.6 1214.8 1370.8C1216.4 1368.0 1222.0 1354.0 1223.9 1348.2C1225.7 1342.4 1237.4 1298.4 1237.4 1298.4C1237.4 1298.4 1245.4 1301.8 1245.4 1301.8C1245.4 1301.8 1251.1 1313.0 1253.3 1316.5C1255.5 1320.0 1261.7 1329.3 1264.6 1332.3C1267.5 1335.4 1274.4 1340.5 1278.2 1342.5C1281.9 1344.5 1291.6 1348.1 1296.3 1349.3C1301.0 1350.5 1313.5 1352.1 1318.9 1352.7C1324.3 1353.2 1340.4 1353.8 1340.4 1353.8" fill="none" stroke="#1645a5" stroke-width="3.4" stroke-dasharray="0.01 12.9" stroke-linecap="round" stroke-linejoin="round"/>
<g font-family='"Liberation Serif", serif' fill="#1a1a1a"><text x="449.4" y="35.3" font-size="42" text-anchor="start" letter-spacing="2.5">(a)</text>
<text x="33.9" y="57.9" font-size="45" text-anchor="start" font-style="italic" >j</text>
<text x="46.8" y="57.9" font-size="45" text-anchor="start" >,</text>
<text x="67.7" y="57.9" font-size="45" text-anchor="start" >мА/см</text>
<text x="189.2" y="42.7" font-size="31" text-anchor="start" >2</text>
<text x="528.7" y="806.0" font-size="43.3" text-anchor="start" font-style="italic" >E</text>
<text x="554.8" y="806.0" font-size="43.3" text-anchor="start" >,</text>
<text x="578.1" y="806.0" font-size="43.3" text-anchor="start" >В (отн. нас. к. э)</text>
<text x="188.6" y="201.6" font-size="25" text-anchor="start" >A</text>
<text x="206.7" y="204.8" font-size="20.5" text-anchor="start" >2</text>
<text x="206.7" y="191.7" font-size="20.5" text-anchor="start" >MV</text>
<text x="239.7" y="183.8" font-size="20.5" text-anchor="start" >2+</text>
<text x="276.0" y="380.8" font-size="25" text-anchor="start" >A</text>
<text x="294.1" y="384.0" font-size="20.5" text-anchor="start" >1</text>
<text x="294.1" y="370.9" font-size="20.5" text-anchor="start" >MV</text>
<text x="327.1" y="363.0" font-size="20.5" text-anchor="start" >2+</text>
<text x="153.0" y="644.8" font-size="25" text-anchor="start" >C</text>
<text x="172.2" y="648.0" font-size="20.5" text-anchor="start" >2</text>
<text x="172.2" y="634.9" font-size="20.5" text-anchor="start" >MV</text>
<text x="205.2" y="627.0" font-size="20.5" text-anchor="start" >2+</text>
<text x="279.0" y="604.8" font-size="25" text-anchor="start" >C</text>
<text x="298.2" y="608.0" font-size="20.5" text-anchor="start" >1</text>
<text x="298.2" y="594.9" font-size="20.5" text-anchor="start" >MV</text>
<text x="331.2" y="587.0" font-size="20.5" text-anchor="start" >2+</text>
<text x="620.0" y="127.0" font-size="26" text-anchor="start" >A</text>
<text x="638.8" y="118.2" font-size="21" text-anchor="start" >Pd</text>
<text x="485.0" y="653.0" font-size="26" text-anchor="start" >C</text>
<text x="502.3" y="644.2" font-size="21" text-anchor="start" >Pd</text>
<path d="M341.7 419.6H375.0" fill="none" stroke="#141618" stroke-width="2.5"/>
<path d="M375.0 414.6L393.0 419.6L375.0 424.6Z" fill="#141618" stroke="#141618" stroke-width="1.2" stroke-linejoin="round"/>
<path d="M341.7 440.7H375.0" fill="none" stroke="#eb4030" stroke-width="2.9" stroke-dasharray="11 10"/>
<path d="M375.0 435.7L393.0 440.7L375.0 445.7Z" fill="#eb4030" stroke="#eb4030" stroke-width="1.2" stroke-linejoin="round"/>
<path d="M341.7 461.3H375.0" fill="none" stroke="#1645a5" stroke-width="3.4" stroke-dasharray="0.01 12.9" stroke-linecap="round"/>
<path d="M375.0 456.3L393.0 461.3L375.0 466.3Z" fill="#1645a5" stroke="#1645a5" stroke-width="1.2" stroke-linejoin="round"/>
<path d="M750.0 596.5H823.0" stroke="#141618" stroke-width="2.5" stroke-linecap="round"/>
<path d="M750.0 636.0H804.0" stroke="#eb4030" stroke-width="2.9" stroke-dasharray="11 10"/>
<path d="M752.0 676.0H823.0" stroke="#1645a5" stroke-width="3.4" stroke-dasharray="0.01 12.9" stroke-linecap="round"/>
<text x="836.0" y="602.6" font-size="34" text-anchor="start" font-style="italic" >1</text>
<text x="836.0" y="644.6" font-size="34" text-anchor="start" font-style="italic" >2</text>
<text x="836.0" y="686.5" font-size="34" text-anchor="start" font-style="italic" >3</text>
<text x="1450.7" y="36.4" font-size="42" text-anchor="start" letter-spacing="1.4">(б)</text>
<text x="1015.3" y="57.9" font-size="45" text-anchor="start" font-style="italic" >j</text>
<text x="1028.2" y="57.9" font-size="45" text-anchor="start" >,</text>
<text x="1049.1" y="57.9" font-size="45" text-anchor="start" >мА/см</text>
<text x="1170.6" y="42.7" font-size="31" text-anchor="start" >2</text>
<text x="1511.2" y="805.7" font-size="43.3" text-anchor="start" font-style="italic" >E</text>
<text x="1537.3" y="805.7" font-size="43.3" text-anchor="start" >,</text>
<text x="1560.6" y="805.7" font-size="43.3" text-anchor="start" >В (отн. нас. к. э)</text>
<text x="1203.8" y="382.8" font-size="25" text-anchor="start" >A</text>
<text x="1221.9" y="386.0" font-size="20.5" text-anchor="start" >2</text>
<text x="1221.9" y="372.9" font-size="20.5" text-anchor="start" >MV</text>
<text x="1254.9" y="365.0" font-size="20.5" text-anchor="start" >2+</text>
<text x="1269.0" y="474.3" font-size="25" text-anchor="start" >A</text>
<text x="1287.1" y="477.5" font-size="20.5" text-anchor="start" >1</text>
<text x="1287.1" y="464.4" font-size="20.5" text-anchor="start" >MV</text>
<text x="1320.1" y="456.5" font-size="20.5" text-anchor="start" >2+</text>
<text x="1163.6" y="680.4" font-size="25" text-anchor="start" >C</text>
<text x="1182.8" y="683.6" font-size="20.5" text-anchor="start" >2</text>
<text x="1182.8" y="670.5" font-size="20.5" text-anchor="start" >MV</text>
<text x="1215.8" y="662.6" font-size="20.5" text-anchor="start" >2+</text>
<text x="1268.0" y="670.3" font-size="25" text-anchor="start" >C</text>
<text x="1287.2" y="673.5" font-size="20.5" text-anchor="start" >1</text>
<text x="1287.2" y="660.4" font-size="20.5" text-anchor="start" >MV</text>
<text x="1320.2" y="652.5" font-size="20.5" text-anchor="start" >2+</text>
<text x="1537.5" y="114.5" font-size="26" text-anchor="start" >A</text>
<text x="1556.3" y="118.8" font-size="21" text-anchor="start" >2</text>
<text x="1556.3" y="105.7" font-size="21" text-anchor="start" >Cu</text>
<text x="1620.0" y="252.0" font-size="26" text-anchor="start" >A</text>
<text x="1638.8" y="256.3" font-size="21" text-anchor="start" >1</text>
<text x="1638.8" y="243.2" font-size="21" text-anchor="start" >Cu</text>
<text x="1497.8" y="627.0" font-size="26" text-anchor="start" >C</text>
<text x="1515.1" y="631.3" font-size="21" text-anchor="start" >1</text>
<text x="1515.1" y="618.2" font-size="21" text-anchor="start" >Cu</text>
<text x="1446.6" y="683.0" font-size="26" text-anchor="start" >C</text>
<text x="1463.9" y="687.3" font-size="21" text-anchor="start" >2</text>
<text x="1463.9" y="674.2" font-size="21" text-anchor="start" >Cu</text>
<path d="M1397.3 490.0H1433.0" fill="none" stroke="#141618" stroke-width="2.5"/>
<path d="M1433.0 485.0L1451.0 490.0L1433.0 495.0Z" fill="#141618" stroke="#141618" stroke-width="1.2" stroke-linejoin="round"/>
<path d="M1397.3 512.7H1433.0" fill="none" stroke="#eb4030" stroke-width="2.9" stroke-dasharray="11 10"/>
<path d="M1433.0 507.7L1451.0 512.7L1433.0 517.7Z" fill="#eb4030" stroke="#eb4030" stroke-width="1.2" stroke-linejoin="round"/>
<path d="M1397.3 532.8H1433.0" fill="none" stroke="#1645a5" stroke-width="3.4" stroke-dasharray="0.01 12.9" stroke-linecap="round"/>
<path d="M1433.0 527.8L1451.0 532.8L1433.0 537.8Z" fill="#1645a5" stroke="#1645a5" stroke-width="1.2" stroke-linejoin="round"/>
<path d="M1733.0 597.0H1806.0" stroke="#141618" stroke-width="2.5" stroke-linecap="round"/>
<path d="M1733.0 637.9H1787.0" stroke="#eb4030" stroke-width="2.9" stroke-dasharray="11 10"/>
<path d="M1735.0 677.2H1806.0" stroke="#1645a5" stroke-width="3.4" stroke-dasharray="0.01 12.9" stroke-linecap="round"/>
<text x="1820.0" y="602.6" font-size="34" text-anchor="start" font-style="italic" >1</text>
<text x="1820.0" y="645.2" font-size="34" text-anchor="start" font-style="italic" >2</text>
<text x="1820.0" y="686.5" font-size="34" text-anchor="start" font-style="italic" >3</text>
<text x="449.8" y="896.8" font-size="42" text-anchor="start" letter-spacing="1.5">(в)</text>
<text x="20.1" y="915.1" font-size="45" text-anchor="start" font-style="italic" >j</text>
<text x="33.0" y="915.1" font-size="45" text-anchor="start" >,</text>
<text x="53.9" y="915.1" font-size="45" text-anchor="start" >мА/см</text>
<text x="175.4" y="899.9" font-size="31" text-anchor="start" >2</text>
<text x="530.4" y="1665.5" font-size="43.3" text-anchor="start" font-style="italic" >E</text>
<text x="556.5" y="1665.5" font-size="43.3" text-anchor="start" >,</text>
<text x="579.8" y="1665.5" font-size="43.3" text-anchor="start" >В (отн. нас. к. э)</text>
<text x="192.5" y="1319.3" font-size="25" text-anchor="start" >A</text>
<text x="210.6" y="1322.5" font-size="20.5" text-anchor="start" >2</text>
<text x="210.6" y="1309.4" font-size="20.5" text-anchor="start" >MV</text>
<text x="243.6" y="1301.5" font-size="20.5" text-anchor="start" >2+</text>
<text x="256.3" y="1376.8" font-size="25" text-anchor="start" >A</text>
<text x="274.4" y="1380.0" font-size="20.5" text-anchor="start" >1</text>
<text x="274.4" y="1366.9" font-size="20.5" text-anchor="start" >MV</text>
<text x="307.4" y="1359.0" font-size="20.5" text-anchor="start" >2+</text>
<text x="158.3" y="1537.8" font-size="25" text-anchor="start" >C</text>
<text x="177.5" y="1541.0" font-size="20.5" text-anchor="start" >2</text>
<text x="177.5" y="1527.9" font-size="20.5" text-anchor="start" >MV</text>
<text x="210.5" y="1520.0" font-size="20.5" text-anchor="start" >2+</text>
<text x="269.0" y="1532.8" font-size="25" text-anchor="start" >C</text>
<text x="288.2" y="1536.0" font-size="20.5" text-anchor="start" >1</text>
<text x="288.2" y="1522.9" font-size="20.5" text-anchor="start" >MV</text>
<text x="321.2" y="1515.0" font-size="20.5" text-anchor="start" >2+</text>
<text x="542.2" y="976.7" font-size="44" text-anchor="start" >A</text>
<text x="574.0" y="985.7" font-size="32" text-anchor="start" >2</text>
<text x="574.0" y="962.2" font-size="32" text-anchor="start" >Cu</text>
<text x="595.6" y="1243.0" font-size="44" text-anchor="start" >A</text>
<text x="627.4" y="1252.0" font-size="32" text-anchor="start" >1</text>
<text x="627.4" y="1228.5" font-size="32" text-anchor="start" >Cu</text>
<path d="M339.3 1390.4H375.0" fill="none" stroke="#141618" stroke-width="2.5"/>
<path d="M375.0 1385.4L393.0 1390.4L375.0 1395.4Z" fill="#141618" stroke="#141618" stroke-width="1.2" stroke-linejoin="round"/>
<path d="M339.3 1411.5H375.0" fill="none" stroke="#eb4030" stroke-width="2.9" stroke-dasharray="11 10"/>
<path d="M375.0 1406.5L393.0 1411.5L375.0 1416.5Z" fill="#eb4030" stroke="#eb4030" stroke-width="1.2" stroke-linejoin="round"/>
<path d="M339.3 1433.1H375.0" fill="none" stroke="#1645a5" stroke-width="3.4" stroke-dasharray="0.01 12.9" stroke-linecap="round"/>
<path d="M375.0 1428.1L393.0 1433.1L375.0 1438.1Z" fill="#1645a5" stroke="#1645a5" stroke-width="1.2" stroke-linejoin="round"/>
<path d="M746.0 1457.3H819.4" stroke="#141618" stroke-width="2.5" stroke-linecap="round"/>
<path d="M746.0 1497.0H800.0" stroke="#eb4030" stroke-width="2.9" stroke-dasharray="11 10"/>
<path d="M748.0 1537.2H819.4" stroke="#1645a5" stroke-width="3.4" stroke-dasharray="0.01 12.9" stroke-linecap="round"/>
<text x="828.0" y="1465.0" font-size="34" text-anchor="start" font-style="italic" >1</text>
<text x="828.0" y="1507.0" font-size="34" text-anchor="start" font-style="italic" >2</text>
<text x="828.0" y="1549.2" font-size="34" text-anchor="start" font-style="italic" >3</text>
<text x="1450.7" y="899.5" font-size="42" text-anchor="start" letter-spacing="2.4">(г)</text>
<text x="1001.5" y="915.1" font-size="45" text-anchor="start" font-style="italic" >j</text>
<text x="1014.4" y="915.1" font-size="45" text-anchor="start" >,</text>
<text x="1035.3" y="915.1" font-size="45" text-anchor="start" >мА/см</text>
<text x="1156.8" y="899.9" font-size="31" text-anchor="start" >2</text>
<text x="1545.6" y="1665.5" font-size="43.3" text-anchor="start" font-style="italic" >E</text>
<text x="1571.7" y="1665.5" font-size="43.3" text-anchor="start" >,</text>
<text x="1595.0" y="1665.5" font-size="43.3" text-anchor="start" >В (отн. нас. к. э)</text>
<text x="1169.6" y="1161.0" font-size="25" text-anchor="start" >A</text>
<text x="1187.7" y="1164.2" font-size="20.5" text-anchor="start" >2</text>
<text x="1187.7" y="1151.1" font-size="20.5" text-anchor="start" >MV</text>
<text x="1220.7" y="1143.2" font-size="20.5" text-anchor="start" >2+</text>
<text x="1245.0" y="1274.1" font-size="25" text-anchor="start" >A</text>
<text x="1263.1" y="1277.3" font-size="20.5" text-anchor="start" >1</text>
<text x="1263.1" y="1264.2" font-size="20.5" text-anchor="start" >MV</text>
<text x="1296.1" y="1256.3" font-size="20.5" text-anchor="start" >2+</text>
<text x="1115.9" y="1510.3" font-size="25" text-anchor="start" >C</text>
<text x="1135.1" y="1513.5" font-size="20.5" text-anchor="start" >2</text>
<text x="1135.1" y="1500.4" font-size="20.5" text-anchor="start" >MV</text>
<text x="1168.1" y="1492.5" font-size="20.5" text-anchor="start" >2+</text>
<text x="1225.0" y="1492.8" font-size="25" text-anchor="start" >C</text>
<text x="1244.2" y="1496.0" font-size="20.5" text-anchor="start" >1</text>
<text x="1244.2" y="1482.9" font-size="20.5" text-anchor="start" >MV</text>
<text x="1277.2" y="1475.0" font-size="20.5" text-anchor="start" >2+</text>
<text x="1745.0" y="987.9" font-size="44" text-anchor="start" >A</text>
<text x="1773.5" y="972.8" font-size="30" text-anchor="start" >Au</text>
<text x="1610.5" y="1536.5" font-size="44" text-anchor="start" >C</text>
<text x="1636.5" y="1521.4" font-size="30" text-anchor="start" >Au</text>
<path d="M1347.0 1298.9H1383.0" fill="none" stroke="#141618" stroke-width="2.5"/>
<path d="M1383.0 1293.9L1401.0 1298.9L1383.0 1303.9Z" fill="#141618" stroke="#141618" stroke-width="1.2" stroke-linejoin="round"/>
<path d="M1347.0 1320.0H1383.0" fill="none" stroke="#eb4030" stroke-width="2.9" stroke-dasharray="11 10"/>
<path d="M1383.0 1315.0L1401.0 1320.0L1383.0 1325.0Z" fill="#eb4030" stroke="#eb4030" stroke-width="1.2" stroke-linejoin="round"/>
<path d="M1347.0 1341.1H1383.0" fill="none" stroke="#1645a5" stroke-width="3.4" stroke-dasharray="0.01 12.9" stroke-linecap="round"/>
<path d="M1383.0 1336.1L1401.0 1341.1L1383.0 1346.1Z" fill="#1645a5" stroke="#1645a5" stroke-width="1.2" stroke-linejoin="round"/>
<path d="M1730.3 1445.5H1803.2" stroke="#141618" stroke-width="2.5" stroke-linecap="round"/>
<path d="M1730.3 1485.7H1784.0" stroke="#eb4030" stroke-width="2.9" stroke-dasharray="11 10"/>
<path d="M1732.3 1524.4H1803.2" stroke="#1645a5" stroke-width="3.4" stroke-dasharray="0.01 12.9" stroke-linecap="round"/>
<text x="1808.0" y="1464.2" font-size="34" text-anchor="start" font-style="italic" >1</text>
<text x="1808.0" y="1507.0" font-size="34" text-anchor="start" font-style="italic" >2</text>
<text x="1808.0" y="1548.5" font-size="34" text-anchor="start" font-style="italic" >3</text></g>
</svg></body></html>
